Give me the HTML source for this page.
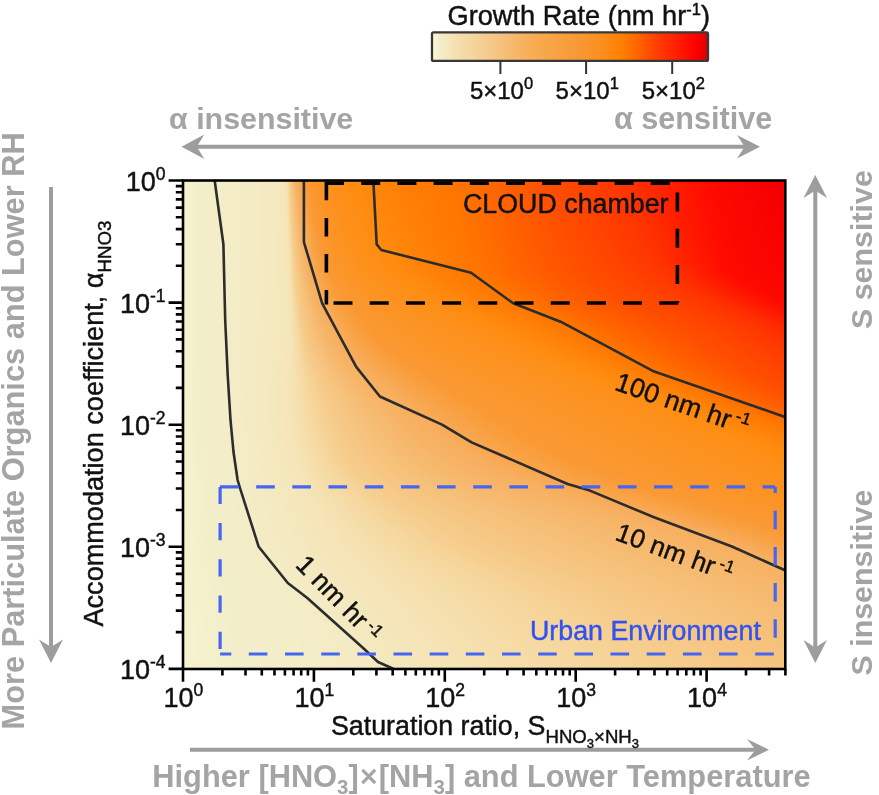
<!DOCTYPE html>
<html><head><meta charset="utf-8">
<style>
html,body{margin:0;padding:0;background:#fff;width:879px;height:795px;overflow:hidden}
body{filter:blur(0.45px)}
#hm{position:absolute;left:183px;top:180px;width:602px;height:488px}
svg{position:absolute;left:0;top:0}
text{font-family:"Liberation Sans", sans-serif}
.k{stroke:#111;stroke-width:0.45px}
</style></head><body>
<svg id="fb" width="602" height="488" style="position:absolute;left:183px;top:180px"><defs><linearGradient id="r0"><stop offset="0.000" stop-color="#f6f2cf"/><stop offset="0.028" stop-color="#f3eeca"/><stop offset="0.053" stop-color="#f3edc8"/><stop offset="0.078" stop-color="#f3ecc6"/><stop offset="0.111" stop-color="#f4ebc4"/><stop offset="0.145" stop-color="#f4e9c0"/><stop offset="0.161" stop-color="#f4e7bc"/><stop offset="0.169" stop-color="#f5e6ba"/><stop offset="0.174" stop-color="#f6daa4"/><stop offset="0.179" stop-color="#f6c886"/><stop offset="0.184" stop-color="#f6ba6f"/><stop offset="0.189" stop-color="#f7af60"/><stop offset="0.194" stop-color="#f8a852"/><stop offset="0.203" stop-color="#fa9d3b"/><stop offset="0.214" stop-color="#fb972d"/><stop offset="0.228" stop-color="#fc9424"/><stop offset="0.252" stop-color="#fe8f19"/><stop offset="0.277" stop-color="#ff8d12"/><stop offset="0.327" stop-color="#ff840a"/><stop offset="0.394" stop-color="#ff7b04"/><stop offset="0.477" stop-color="#ff7000"/><stop offset="0.576" stop-color="#ff5600"/><stop offset="0.693" stop-color="#ff3d00"/><stop offset="0.826" stop-color="#ff1a00"/><stop offset="1.000" stop-color="#ee0000"/></linearGradient><linearGradient id="r1"><stop offset="0.000" stop-color="#f6f2cf"/><stop offset="0.028" stop-color="#f3eeca"/><stop offset="0.053" stop-color="#f3edc8"/><stop offset="0.078" stop-color="#f3ecc6"/><stop offset="0.111" stop-color="#f4ebc4"/><stop offset="0.145" stop-color="#f4e9c0"/><stop offset="0.161" stop-color="#f4e7bc"/><stop offset="0.169" stop-color="#f5e6ba"/><stop offset="0.174" stop-color="#f6dca8"/><stop offset="0.179" stop-color="#f6ca89"/><stop offset="0.184" stop-color="#f6bd74"/><stop offset="0.189" stop-color="#f7b263"/><stop offset="0.194" stop-color="#f7ab58"/><stop offset="0.203" stop-color="#f9a041"/><stop offset="0.214" stop-color="#fb9830"/><stop offset="0.228" stop-color="#fc9426"/><stop offset="0.252" stop-color="#fe901b"/><stop offset="0.277" stop-color="#ff8d13"/><stop offset="0.327" stop-color="#ff850b"/><stop offset="0.394" stop-color="#ff7c04"/><stop offset="0.477" stop-color="#ff7000"/><stop offset="0.576" stop-color="#ff5700"/><stop offset="0.693" stop-color="#ff3e00"/><stop offset="0.826" stop-color="#ff1a00"/><stop offset="1.000" stop-color="#f00000"/></linearGradient><linearGradient id="r2"><stop offset="0.000" stop-color="#f6f2cf"/><stop offset="0.028" stop-color="#f3eeca"/><stop offset="0.053" stop-color="#f3edc8"/><stop offset="0.078" stop-color="#f3ecc6"/><stop offset="0.111" stop-color="#f4ebc4"/><stop offset="0.145" stop-color="#f4e9c0"/><stop offset="0.161" stop-color="#f4e7bd"/><stop offset="0.169" stop-color="#f5e6ba"/><stop offset="0.174" stop-color="#f5deab"/><stop offset="0.179" stop-color="#f6cc8c"/><stop offset="0.184" stop-color="#f6c079"/><stop offset="0.189" stop-color="#f7b467"/><stop offset="0.194" stop-color="#f7ae5d"/><stop offset="0.203" stop-color="#f9a347"/><stop offset="0.214" stop-color="#fa9932"/><stop offset="0.228" stop-color="#fc9528"/><stop offset="0.252" stop-color="#fd911c"/><stop offset="0.277" stop-color="#fe8e15"/><stop offset="0.327" stop-color="#ff860c"/><stop offset="0.394" stop-color="#ff7d05"/><stop offset="0.477" stop-color="#ff7100"/><stop offset="0.576" stop-color="#ff5800"/><stop offset="0.693" stop-color="#ff3f00"/><stop offset="0.826" stop-color="#ff1b00"/><stop offset="1.000" stop-color="#f20000"/></linearGradient><linearGradient id="r3"><stop offset="0.000" stop-color="#f6f2cf"/><stop offset="0.028" stop-color="#f3eeca"/><stop offset="0.053" stop-color="#f3edc8"/><stop offset="0.078" stop-color="#f3ecc6"/><stop offset="0.111" stop-color="#f4ebc4"/><stop offset="0.145" stop-color="#f4e9c0"/><stop offset="0.161" stop-color="#f4e7bd"/><stop offset="0.169" stop-color="#f5e6ba"/><stop offset="0.174" stop-color="#f5dfae"/><stop offset="0.179" stop-color="#f6ce8f"/><stop offset="0.184" stop-color="#f6c27c"/><stop offset="0.189" stop-color="#f7b76b"/><stop offset="0.194" stop-color="#f7af60"/><stop offset="0.203" stop-color="#f8a54c"/><stop offset="0.214" stop-color="#fa9a34"/><stop offset="0.228" stop-color="#fb962a"/><stop offset="0.252" stop-color="#fd911e"/><stop offset="0.277" stop-color="#fe8e16"/><stop offset="0.327" stop-color="#ff870c"/><stop offset="0.394" stop-color="#ff7d05"/><stop offset="0.477" stop-color="#ff7100"/><stop offset="0.576" stop-color="#ff5800"/><stop offset="0.693" stop-color="#ff4000"/><stop offset="0.826" stop-color="#ff1c00"/><stop offset="1.000" stop-color="#f40000"/></linearGradient><linearGradient id="r4"><stop offset="0.000" stop-color="#f6f2cf"/><stop offset="0.028" stop-color="#f3eeca"/><stop offset="0.053" stop-color="#f3edc8"/><stop offset="0.078" stop-color="#f3ecc6"/><stop offset="0.111" stop-color="#f4ebc4"/><stop offset="0.145" stop-color="#f4e9c0"/><stop offset="0.161" stop-color="#f4e7bd"/><stop offset="0.169" stop-color="#f5e6ba"/><stop offset="0.174" stop-color="#f5e1b0"/><stop offset="0.179" stop-color="#f6d093"/><stop offset="0.184" stop-color="#f6c47f"/><stop offset="0.189" stop-color="#f6b96f"/><stop offset="0.194" stop-color="#f7b163"/><stop offset="0.203" stop-color="#f8a851"/><stop offset="0.214" stop-color="#fa9b38"/><stop offset="0.228" stop-color="#fb972c"/><stop offset="0.252" stop-color="#fd9220"/><stop offset="0.277" stop-color="#fe8f18"/><stop offset="0.327" stop-color="#ff880d"/><stop offset="0.394" stop-color="#ff7e05"/><stop offset="0.477" stop-color="#ff7200"/><stop offset="0.576" stop-color="#ff5900"/><stop offset="0.693" stop-color="#ff4100"/><stop offset="0.826" stop-color="#ff1d00"/><stop offset="1.000" stop-color="#f50000"/></linearGradient><linearGradient id="r5"><stop offset="0.000" stop-color="#f6f2cf"/><stop offset="0.028" stop-color="#f3eeca"/><stop offset="0.053" stop-color="#f3edc8"/><stop offset="0.078" stop-color="#f3ecc6"/><stop offset="0.111" stop-color="#f4ebc4"/><stop offset="0.145" stop-color="#f4e9c0"/><stop offset="0.161" stop-color="#f4e7bd"/><stop offset="0.169" stop-color="#f5e6ba"/><stop offset="0.174" stop-color="#f5e2b2"/><stop offset="0.179" stop-color="#f6d396"/><stop offset="0.184" stop-color="#f6c682"/><stop offset="0.189" stop-color="#f6bc72"/><stop offset="0.194" stop-color="#f7b366"/><stop offset="0.203" stop-color="#f8aa56"/><stop offset="0.214" stop-color="#f99e3c"/><stop offset="0.228" stop-color="#fb982e"/><stop offset="0.252" stop-color="#fd9322"/><stop offset="0.277" stop-color="#fe8f19"/><stop offset="0.327" stop-color="#ff890e"/><stop offset="0.394" stop-color="#ff7e06"/><stop offset="0.477" stop-color="#ff7200"/><stop offset="0.576" stop-color="#ff5a00"/><stop offset="0.693" stop-color="#ff4200"/><stop offset="0.826" stop-color="#ff1e00"/><stop offset="1.000" stop-color="#f60100"/></linearGradient><linearGradient id="r6"><stop offset="0.000" stop-color="#f6f2cf"/><stop offset="0.028" stop-color="#f3eeca"/><stop offset="0.053" stop-color="#f3edc8"/><stop offset="0.078" stop-color="#f3ecc6"/><stop offset="0.111" stop-color="#f4ebc4"/><stop offset="0.145" stop-color="#f4e9c0"/><stop offset="0.161" stop-color="#f4e7bd"/><stop offset="0.169" stop-color="#f5e6ba"/><stop offset="0.174" stop-color="#f5e3b4"/><stop offset="0.179" stop-color="#f6d59a"/><stop offset="0.184" stop-color="#f6c885"/><stop offset="0.189" stop-color="#f6be76"/><stop offset="0.194" stop-color="#f7b569"/><stop offset="0.203" stop-color="#f7ac5a"/><stop offset="0.214" stop-color="#f9a041"/><stop offset="0.228" stop-color="#fb9830"/><stop offset="0.252" stop-color="#fc9323"/><stop offset="0.277" stop-color="#fe901b"/><stop offset="0.327" stop-color="#ff8a0f"/><stop offset="0.394" stop-color="#ff7f06"/><stop offset="0.477" stop-color="#ff7300"/><stop offset="0.576" stop-color="#ff5b00"/><stop offset="0.693" stop-color="#ff4300"/><stop offset="0.826" stop-color="#ff1f00"/><stop offset="1.000" stop-color="#f60100"/></linearGradient><linearGradient id="r7"><stop offset="0.000" stop-color="#f6f2cf"/><stop offset="0.028" stop-color="#f3eeca"/><stop offset="0.053" stop-color="#f3edc8"/><stop offset="0.078" stop-color="#f3ecc6"/><stop offset="0.111" stop-color="#f4ebc4"/><stop offset="0.145" stop-color="#f4e9c0"/><stop offset="0.161" stop-color="#f4e7bd"/><stop offset="0.169" stop-color="#f5e6ba"/><stop offset="0.174" stop-color="#f5e4b6"/><stop offset="0.179" stop-color="#f6d79d"/><stop offset="0.184" stop-color="#f6c988"/><stop offset="0.189" stop-color="#f6c179"/><stop offset="0.194" stop-color="#f6b86c"/><stop offset="0.203" stop-color="#f7ae5e"/><stop offset="0.214" stop-color="#f9a346"/><stop offset="0.228" stop-color="#fa9933"/><stop offset="0.252" stop-color="#fc9425"/><stop offset="0.277" stop-color="#fd911c"/><stop offset="0.327" stop-color="#ff8b0f"/><stop offset="0.394" stop-color="#ff8007"/><stop offset="0.477" stop-color="#ff7400"/><stop offset="0.576" stop-color="#ff5c00"/><stop offset="0.693" stop-color="#ff4400"/><stop offset="0.826" stop-color="#ff2100"/><stop offset="1.000" stop-color="#f70200"/></linearGradient><linearGradient id="r8"><stop offset="0.000" stop-color="#f6f2cf"/><stop offset="0.028" stop-color="#f3eeca"/><stop offset="0.053" stop-color="#f3edc8"/><stop offset="0.078" stop-color="#f3ecc6"/><stop offset="0.111" stop-color="#f4ebc4"/><stop offset="0.145" stop-color="#f4e9c0"/><stop offset="0.161" stop-color="#f4e7bd"/><stop offset="0.169" stop-color="#f5e6bb"/><stop offset="0.174" stop-color="#f5e4b7"/><stop offset="0.179" stop-color="#f6d8a0"/><stop offset="0.184" stop-color="#f6cb8a"/><stop offset="0.189" stop-color="#f6c37d"/><stop offset="0.194" stop-color="#f6ba70"/><stop offset="0.203" stop-color="#f7b061"/><stop offset="0.214" stop-color="#f8a54c"/><stop offset="0.228" stop-color="#fa9a35"/><stop offset="0.252" stop-color="#fc9527"/><stop offset="0.277" stop-color="#fd911e"/><stop offset="0.327" stop-color="#ff8c11"/><stop offset="0.394" stop-color="#ff8108"/><stop offset="0.477" stop-color="#ff7500"/><stop offset="0.576" stop-color="#ff5d00"/><stop offset="0.693" stop-color="#ff4600"/><stop offset="0.826" stop-color="#ff2300"/><stop offset="1.000" stop-color="#f70200"/></linearGradient><linearGradient id="r9"><stop offset="0.000" stop-color="#f6f2cf"/><stop offset="0.028" stop-color="#f3eeca"/><stop offset="0.053" stop-color="#f3edc8"/><stop offset="0.078" stop-color="#f3ecc6"/><stop offset="0.111" stop-color="#f4ebc4"/><stop offset="0.145" stop-color="#f4e9c0"/><stop offset="0.161" stop-color="#f4e7bd"/><stop offset="0.169" stop-color="#f5e6bb"/><stop offset="0.174" stop-color="#f5e5b7"/><stop offset="0.179" stop-color="#f6daa4"/><stop offset="0.184" stop-color="#f6cd8d"/><stop offset="0.189" stop-color="#f6c580"/><stop offset="0.194" stop-color="#f6bd74"/><stop offset="0.203" stop-color="#f7b264"/><stop offset="0.214" stop-color="#f8a851"/><stop offset="0.228" stop-color="#fa9d3a"/><stop offset="0.252" stop-color="#fc962a"/><stop offset="0.277" stop-color="#fd9220"/><stop offset="0.327" stop-color="#ff8d13"/><stop offset="0.394" stop-color="#ff8209"/><stop offset="0.477" stop-color="#ff7600"/><stop offset="0.576" stop-color="#ff5e00"/><stop offset="0.693" stop-color="#ff4700"/><stop offset="0.826" stop-color="#ff2500"/><stop offset="1.000" stop-color="#f80300"/></linearGradient><linearGradient id="r10"><stop offset="0.000" stop-color="#f6f2cf"/><stop offset="0.028" stop-color="#f3eeca"/><stop offset="0.053" stop-color="#f3edc8"/><stop offset="0.078" stop-color="#f3ecc6"/><stop offset="0.111" stop-color="#f4ebc4"/><stop offset="0.145" stop-color="#f4e9c0"/><stop offset="0.161" stop-color="#f4e7bd"/><stop offset="0.169" stop-color="#f5e6bb"/><stop offset="0.174" stop-color="#f5e5b8"/><stop offset="0.179" stop-color="#f6dca7"/><stop offset="0.184" stop-color="#f6cf90"/><stop offset="0.189" stop-color="#f6c783"/><stop offset="0.194" stop-color="#f6bf77"/><stop offset="0.203" stop-color="#f7b467"/><stop offset="0.214" stop-color="#f8ab57"/><stop offset="0.228" stop-color="#f9a040"/><stop offset="0.252" stop-color="#fb972c"/><stop offset="0.277" stop-color="#fd9322"/><stop offset="0.327" stop-color="#fe8e15"/><stop offset="0.394" stop-color="#ff830a"/><stop offset="0.477" stop-color="#ff7701"/><stop offset="0.576" stop-color="#ff5f00"/><stop offset="0.693" stop-color="#ff4800"/><stop offset="0.826" stop-color="#ff2800"/><stop offset="1.000" stop-color="#f80300"/></linearGradient><linearGradient id="r11"><stop offset="0.000" stop-color="#f6f2cf"/><stop offset="0.028" stop-color="#f3eeca"/><stop offset="0.053" stop-color="#f3edc8"/><stop offset="0.078" stop-color="#f3ecc6"/><stop offset="0.111" stop-color="#f4ebc4"/><stop offset="0.145" stop-color="#f4e9c0"/><stop offset="0.161" stop-color="#f4e8bd"/><stop offset="0.169" stop-color="#f5e6bb"/><stop offset="0.174" stop-color="#f5e5b8"/><stop offset="0.179" stop-color="#f5ddaa"/><stop offset="0.184" stop-color="#f6d194"/><stop offset="0.189" stop-color="#f6c986"/><stop offset="0.194" stop-color="#f6c27b"/><stop offset="0.203" stop-color="#f7b76b"/><stop offset="0.214" stop-color="#f7ae5d"/><stop offset="0.228" stop-color="#f9a347"/><stop offset="0.252" stop-color="#fb982f"/><stop offset="0.277" stop-color="#fc9425"/><stop offset="0.327" stop-color="#fe8f18"/><stop offset="0.394" stop-color="#ff850b"/><stop offset="0.477" stop-color="#ff7801"/><stop offset="0.576" stop-color="#ff6100"/><stop offset="0.693" stop-color="#ff4a00"/><stop offset="0.826" stop-color="#ff2c00"/><stop offset="1.000" stop-color="#f90400"/></linearGradient><linearGradient id="r12"><stop offset="0.000" stop-color="#f6f2cf"/><stop offset="0.028" stop-color="#f3eeca"/><stop offset="0.053" stop-color="#f3edc8"/><stop offset="0.078" stop-color="#f3ecc6"/><stop offset="0.111" stop-color="#f4ebc4"/><stop offset="0.145" stop-color="#f4e9c0"/><stop offset="0.161" stop-color="#f4e8bd"/><stop offset="0.169" stop-color="#f5e6bb"/><stop offset="0.174" stop-color="#f5e5b9"/><stop offset="0.179" stop-color="#f5dfac"/><stop offset="0.184" stop-color="#f6d499"/><stop offset="0.189" stop-color="#f6ca89"/><stop offset="0.194" stop-color="#f6c47f"/><stop offset="0.203" stop-color="#f6ba6f"/><stop offset="0.214" stop-color="#f7b060"/><stop offset="0.228" stop-color="#f8a64e"/><stop offset="0.252" stop-color="#fa9932"/><stop offset="0.277" stop-color="#fc9528"/><stop offset="0.327" stop-color="#fe901b"/><stop offset="0.394" stop-color="#ff880d"/><stop offset="0.477" stop-color="#ff7a03"/><stop offset="0.576" stop-color="#ff6400"/><stop offset="0.693" stop-color="#ff4d00"/><stop offset="0.826" stop-color="#ff3200"/><stop offset="1.000" stop-color="#fa0500"/></linearGradient><linearGradient id="r13"><stop offset="0.000" stop-color="#f6f2cf"/><stop offset="0.028" stop-color="#f3eeca"/><stop offset="0.053" stop-color="#f3edc8"/><stop offset="0.078" stop-color="#f3ecc6"/><stop offset="0.111" stop-color="#f4ebc4"/><stop offset="0.145" stop-color="#f4e9c0"/><stop offset="0.161" stop-color="#f4e8bd"/><stop offset="0.169" stop-color="#f5e6bb"/><stop offset="0.174" stop-color="#f5e6b9"/><stop offset="0.179" stop-color="#f5e0af"/><stop offset="0.184" stop-color="#f6d69d"/><stop offset="0.189" stop-color="#f6cc8c"/><stop offset="0.194" stop-color="#f6c682"/><stop offset="0.203" stop-color="#f6bd74"/><stop offset="0.214" stop-color="#f7b264"/><stop offset="0.228" stop-color="#f8aa55"/><stop offset="0.252" stop-color="#fa9b36"/><stop offset="0.277" stop-color="#fb972c"/><stop offset="0.327" stop-color="#fd921f"/><stop offset="0.394" stop-color="#ff8c10"/><stop offset="0.477" stop-color="#ff7d05"/><stop offset="0.576" stop-color="#ff6800"/><stop offset="0.693" stop-color="#ff4f00"/><stop offset="0.826" stop-color="#ff3700"/><stop offset="1.000" stop-color="#fb0600"/></linearGradient><linearGradient id="r14"><stop offset="0.000" stop-color="#f6f2cf"/><stop offset="0.028" stop-color="#f3eeca"/><stop offset="0.053" stop-color="#f3edc8"/><stop offset="0.078" stop-color="#f3ecc6"/><stop offset="0.111" stop-color="#f4ebc4"/><stop offset="0.145" stop-color="#f4e9c0"/><stop offset="0.161" stop-color="#f4e8bd"/><stop offset="0.169" stop-color="#f5e6bb"/><stop offset="0.174" stop-color="#f5e6b9"/><stop offset="0.179" stop-color="#f5e1b1"/><stop offset="0.184" stop-color="#f6d8a0"/><stop offset="0.189" stop-color="#f6cf90"/><stop offset="0.194" stop-color="#f6c886"/><stop offset="0.203" stop-color="#f6c078"/><stop offset="0.214" stop-color="#f7b568"/><stop offset="0.228" stop-color="#f7ad5c"/><stop offset="0.252" stop-color="#f99e3e"/><stop offset="0.277" stop-color="#fb982f"/><stop offset="0.327" stop-color="#fd9322"/><stop offset="0.394" stop-color="#fe8e15"/><stop offset="0.477" stop-color="#ff8108"/><stop offset="0.576" stop-color="#ff6e00"/><stop offset="0.693" stop-color="#ff5400"/><stop offset="0.826" stop-color="#ff3c00"/><stop offset="1.000" stop-color="#fd0800"/></linearGradient><linearGradient id="r15"><stop offset="0.000" stop-color="#f6f2cf"/><stop offset="0.028" stop-color="#f3eeca"/><stop offset="0.053" stop-color="#f3edc8"/><stop offset="0.078" stop-color="#f3ecc6"/><stop offset="0.111" stop-color="#f4ebc4"/><stop offset="0.145" stop-color="#f4e9c0"/><stop offset="0.161" stop-color="#f4e8bd"/><stop offset="0.169" stop-color="#f5e6bb"/><stop offset="0.174" stop-color="#f5e6b9"/><stop offset="0.179" stop-color="#f5e2b2"/><stop offset="0.184" stop-color="#f6daa4"/><stop offset="0.189" stop-color="#f6d194"/><stop offset="0.194" stop-color="#f6ca89"/><stop offset="0.203" stop-color="#f6c27c"/><stop offset="0.214" stop-color="#f6b86c"/><stop offset="0.228" stop-color="#f7af60"/><stop offset="0.252" stop-color="#f9a246"/><stop offset="0.277" stop-color="#fa9933"/><stop offset="0.327" stop-color="#fc9426"/><stop offset="0.394" stop-color="#fe9019"/><stop offset="0.477" stop-color="#ff850b"/><stop offset="0.576" stop-color="#ff7400"/><stop offset="0.693" stop-color="#ff5800"/><stop offset="0.826" stop-color="#ff4100"/><stop offset="1.000" stop-color="#ff0a00"/></linearGradient><linearGradient id="r16"><stop offset="0.000" stop-color="#f6f2cf"/><stop offset="0.028" stop-color="#f3eeca"/><stop offset="0.053" stop-color="#f3edc8"/><stop offset="0.078" stop-color="#f3ecc6"/><stop offset="0.111" stop-color="#f4ebc4"/><stop offset="0.145" stop-color="#f4e9c0"/><stop offset="0.161" stop-color="#f4e8bd"/><stop offset="0.169" stop-color="#f5e6bb"/><stop offset="0.174" stop-color="#f5e6ba"/><stop offset="0.179" stop-color="#f5e3b4"/><stop offset="0.184" stop-color="#f6dca7"/><stop offset="0.189" stop-color="#f6d498"/><stop offset="0.194" stop-color="#f6cc8c"/><stop offset="0.203" stop-color="#f6c580"/><stop offset="0.214" stop-color="#f6bb71"/><stop offset="0.228" stop-color="#f7b264"/><stop offset="0.252" stop-color="#f8a64e"/><stop offset="0.277" stop-color="#fa9b37"/><stop offset="0.327" stop-color="#fc9529"/><stop offset="0.394" stop-color="#fd911d"/><stop offset="0.477" stop-color="#ff8a0f"/><stop offset="0.576" stop-color="#ff7902"/><stop offset="0.693" stop-color="#ff5e00"/><stop offset="0.826" stop-color="#ff4500"/><stop offset="1.000" stop-color="#ff1200"/></linearGradient><linearGradient id="r17"><stop offset="0.000" stop-color="#f6f2cf"/><stop offset="0.028" stop-color="#f3eeca"/><stop offset="0.053" stop-color="#f3edc8"/><stop offset="0.078" stop-color="#f3ecc6"/><stop offset="0.111" stop-color="#f4ebc4"/><stop offset="0.145" stop-color="#f4e9c0"/><stop offset="0.161" stop-color="#f4e8bd"/><stop offset="0.169" stop-color="#f5e6bb"/><stop offset="0.174" stop-color="#f5e6ba"/><stop offset="0.179" stop-color="#f5e3b5"/><stop offset="0.184" stop-color="#f5dda9"/><stop offset="0.189" stop-color="#f6d69c"/><stop offset="0.194" stop-color="#f6cf90"/><stop offset="0.203" stop-color="#f6c784"/><stop offset="0.214" stop-color="#f6be75"/><stop offset="0.228" stop-color="#f7b568"/><stop offset="0.252" stop-color="#f8a955"/><stop offset="0.277" stop-color="#f99f3f"/><stop offset="0.327" stop-color="#fb972c"/><stop offset="0.394" stop-color="#fd9221"/><stop offset="0.477" stop-color="#ff8d13"/><stop offset="0.576" stop-color="#ff7d05"/><stop offset="0.693" stop-color="#ff6400"/><stop offset="0.826" stop-color="#ff4900"/><stop offset="1.000" stop-color="#ff1d00"/></linearGradient><linearGradient id="r18"><stop offset="0.000" stop-color="#f6f2cf"/><stop offset="0.028" stop-color="#f3eeca"/><stop offset="0.053" stop-color="#f3edc8"/><stop offset="0.078" stop-color="#f3ecc6"/><stop offset="0.111" stop-color="#f4ebc4"/><stop offset="0.145" stop-color="#f4e9c0"/><stop offset="0.161" stop-color="#f4e7bd"/><stop offset="0.169" stop-color="#f5e6bb"/><stop offset="0.174" stop-color="#f5e6ba"/><stop offset="0.179" stop-color="#f5e4b6"/><stop offset="0.184" stop-color="#f5dfac"/><stop offset="0.189" stop-color="#f6d8a0"/><stop offset="0.194" stop-color="#f6d194"/><stop offset="0.203" stop-color="#f6c987"/><stop offset="0.214" stop-color="#f6c179"/><stop offset="0.228" stop-color="#f6b86c"/><stop offset="0.252" stop-color="#f7ad5b"/><stop offset="0.277" stop-color="#f9a246"/><stop offset="0.327" stop-color="#fb982f"/><stop offset="0.394" stop-color="#fc9324"/><stop offset="0.477" stop-color="#fe8f18"/><stop offset="0.576" stop-color="#ff8209"/><stop offset="0.693" stop-color="#ff6a00"/><stop offset="0.826" stop-color="#ff4d00"/><stop offset="1.000" stop-color="#ff2700"/></linearGradient><linearGradient id="r19"><stop offset="0.000" stop-color="#f6f2cf"/><stop offset="0.028" stop-color="#f3eeca"/><stop offset="0.053" stop-color="#f3edc8"/><stop offset="0.078" stop-color="#f3ecc6"/><stop offset="0.111" stop-color="#f4ebc4"/><stop offset="0.145" stop-color="#f4e9c0"/><stop offset="0.161" stop-color="#f4e7bd"/><stop offset="0.169" stop-color="#f5e6bb"/><stop offset="0.174" stop-color="#f5e6ba"/><stop offset="0.179" stop-color="#f5e4b6"/><stop offset="0.184" stop-color="#f5e0ae"/><stop offset="0.189" stop-color="#f6daa3"/><stop offset="0.194" stop-color="#f6d498"/><stop offset="0.203" stop-color="#f6cb8a"/><stop offset="0.214" stop-color="#f6c37d"/><stop offset="0.228" stop-color="#f6ba70"/><stop offset="0.252" stop-color="#f7af60"/><stop offset="0.277" stop-color="#f8a64d"/><stop offset="0.327" stop-color="#fa9932"/><stop offset="0.394" stop-color="#fc9527"/><stop offset="0.477" stop-color="#fd901c"/><stop offset="0.576" stop-color="#ff870c"/><stop offset="0.693" stop-color="#ff7100"/><stop offset="0.826" stop-color="#ff5100"/><stop offset="1.000" stop-color="#ff3000"/></linearGradient><linearGradient id="r20"><stop offset="0.000" stop-color="#f6f2cf"/><stop offset="0.028" stop-color="#f3eeca"/><stop offset="0.053" stop-color="#f3edc8"/><stop offset="0.078" stop-color="#f3ecc6"/><stop offset="0.111" stop-color="#f4ebc4"/><stop offset="0.145" stop-color="#f4e9c0"/><stop offset="0.161" stop-color="#f4e7bd"/><stop offset="0.169" stop-color="#f5e6bb"/><stop offset="0.174" stop-color="#f5e6ba"/><stop offset="0.179" stop-color="#f5e4b7"/><stop offset="0.184" stop-color="#f5e0af"/><stop offset="0.189" stop-color="#f6dba6"/><stop offset="0.194" stop-color="#f6d69c"/><stop offset="0.203" stop-color="#f6cd8d"/><stop offset="0.214" stop-color="#f6c581"/><stop offset="0.228" stop-color="#f6bd75"/><stop offset="0.252" stop-color="#f7b263"/><stop offset="0.277" stop-color="#f8a954"/><stop offset="0.327" stop-color="#fa9a35"/><stop offset="0.394" stop-color="#fc9629"/><stop offset="0.477" stop-color="#fd921f"/><stop offset="0.576" stop-color="#ff8c10"/><stop offset="0.693" stop-color="#ff7701"/><stop offset="0.826" stop-color="#ff5600"/><stop offset="1.000" stop-color="#ff3500"/></linearGradient><linearGradient id="r21"><stop offset="0.000" stop-color="#f6f2cf"/><stop offset="0.028" stop-color="#f3eeca"/><stop offset="0.053" stop-color="#f3edc8"/><stop offset="0.078" stop-color="#f3ecc6"/><stop offset="0.111" stop-color="#f4ebc4"/><stop offset="0.145" stop-color="#f4e9c0"/><stop offset="0.161" stop-color="#f4e7bd"/><stop offset="0.169" stop-color="#f5e6bb"/><stop offset="0.174" stop-color="#f5e6b9"/><stop offset="0.179" stop-color="#f5e4b7"/><stop offset="0.184" stop-color="#f5e1b0"/><stop offset="0.189" stop-color="#f5dda8"/><stop offset="0.194" stop-color="#f6d8a0"/><stop offset="0.203" stop-color="#f6d091"/><stop offset="0.214" stop-color="#f6c885"/><stop offset="0.228" stop-color="#f6c17a"/><stop offset="0.252" stop-color="#f7b568"/><stop offset="0.277" stop-color="#f7ad5c"/><stop offset="0.327" stop-color="#f99e3d"/><stop offset="0.394" stop-color="#fb972c"/><stop offset="0.477" stop-color="#fd9322"/><stop offset="0.576" stop-color="#fe8e15"/><stop offset="0.693" stop-color="#ff7c04"/><stop offset="0.826" stop-color="#ff5b00"/><stop offset="1.000" stop-color="#ff3a00"/></linearGradient><linearGradient id="r22"><stop offset="0.000" stop-color="#f6f2cf"/><stop offset="0.028" stop-color="#f3eeca"/><stop offset="0.053" stop-color="#f3edc8"/><stop offset="0.078" stop-color="#f3ecc7"/><stop offset="0.111" stop-color="#f4ebc4"/><stop offset="0.145" stop-color="#f4e9bf"/><stop offset="0.161" stop-color="#f4e7bc"/><stop offset="0.169" stop-color="#f5e6ba"/><stop offset="0.174" stop-color="#f5e6b9"/><stop offset="0.179" stop-color="#f5e4b6"/><stop offset="0.184" stop-color="#f5e1b1"/><stop offset="0.189" stop-color="#f5deaa"/><stop offset="0.194" stop-color="#f6daa3"/><stop offset="0.203" stop-color="#f6d396"/><stop offset="0.214" stop-color="#f6ca89"/><stop offset="0.228" stop-color="#f6c47f"/><stop offset="0.252" stop-color="#f6b86d"/><stop offset="0.277" stop-color="#f7b061"/><stop offset="0.327" stop-color="#f9a245"/><stop offset="0.394" stop-color="#fb982f"/><stop offset="0.477" stop-color="#fc9425"/><stop offset="0.576" stop-color="#fe9019"/><stop offset="0.693" stop-color="#ff8108"/><stop offset="0.826" stop-color="#ff6100"/><stop offset="1.000" stop-color="#ff3e00"/></linearGradient><linearGradient id="r23"><stop offset="0.000" stop-color="#f6f2cf"/><stop offset="0.028" stop-color="#f3eeca"/><stop offset="0.053" stop-color="#f3edc9"/><stop offset="0.078" stop-color="#f3ecc7"/><stop offset="0.111" stop-color="#f4ebc4"/><stop offset="0.145" stop-color="#f4e9bf"/><stop offset="0.161" stop-color="#f4e7bc"/><stop offset="0.169" stop-color="#f5e6ba"/><stop offset="0.174" stop-color="#f5e5b9"/><stop offset="0.179" stop-color="#f5e4b6"/><stop offset="0.184" stop-color="#f5e1b1"/><stop offset="0.189" stop-color="#f5deab"/><stop offset="0.194" stop-color="#f6dba5"/><stop offset="0.203" stop-color="#f6d59a"/><stop offset="0.214" stop-color="#f6cd8d"/><stop offset="0.228" stop-color="#f6c783"/><stop offset="0.252" stop-color="#f6bc73"/><stop offset="0.277" stop-color="#f7b366"/><stop offset="0.327" stop-color="#f8a64e"/><stop offset="0.394" stop-color="#fa9933"/><stop offset="0.477" stop-color="#fc9528"/><stop offset="0.576" stop-color="#fd911d"/><stop offset="0.693" stop-color="#ff870c"/><stop offset="0.826" stop-color="#ff6800"/><stop offset="1.000" stop-color="#ff4200"/></linearGradient><linearGradient id="r24"><stop offset="0.000" stop-color="#f6f2cf"/><stop offset="0.028" stop-color="#f3eeca"/><stop offset="0.053" stop-color="#f3edc9"/><stop offset="0.078" stop-color="#f3ecc7"/><stop offset="0.111" stop-color="#f4ebc4"/><stop offset="0.145" stop-color="#f4e8bf"/><stop offset="0.161" stop-color="#f4e7bc"/><stop offset="0.169" stop-color="#f5e6ba"/><stop offset="0.174" stop-color="#f5e5b8"/><stop offset="0.179" stop-color="#f5e4b6"/><stop offset="0.184" stop-color="#f5e1b1"/><stop offset="0.189" stop-color="#f5dfac"/><stop offset="0.194" stop-color="#f6dca7"/><stop offset="0.203" stop-color="#f6d79e"/><stop offset="0.214" stop-color="#f6cf91"/><stop offset="0.228" stop-color="#f6c987"/><stop offset="0.252" stop-color="#f6c078"/><stop offset="0.277" stop-color="#f7b76b"/><stop offset="0.327" stop-color="#f8aa57"/><stop offset="0.394" stop-color="#fa9b37"/><stop offset="0.477" stop-color="#fb962b"/><stop offset="0.576" stop-color="#fd9221"/><stop offset="0.693" stop-color="#ff8c11"/><stop offset="0.826" stop-color="#ff6f00"/><stop offset="1.000" stop-color="#ff4600"/></linearGradient><linearGradient id="r25"><stop offset="0.000" stop-color="#f6f2cf"/><stop offset="0.028" stop-color="#f3eeca"/><stop offset="0.053" stop-color="#f3edc9"/><stop offset="0.078" stop-color="#f3ecc7"/><stop offset="0.111" stop-color="#f4ebc4"/><stop offset="0.145" stop-color="#f4e8bf"/><stop offset="0.161" stop-color="#f4e7bb"/><stop offset="0.169" stop-color="#f5e6ba"/><stop offset="0.174" stop-color="#f5e5b8"/><stop offset="0.179" stop-color="#f5e4b5"/><stop offset="0.184" stop-color="#f5e2b2"/><stop offset="0.189" stop-color="#f5dfad"/><stop offset="0.194" stop-color="#f5dda8"/><stop offset="0.203" stop-color="#f6d8a0"/><stop offset="0.214" stop-color="#f6d295"/><stop offset="0.228" stop-color="#f6cb8a"/><stop offset="0.252" stop-color="#f6c37c"/><stop offset="0.277" stop-color="#f6ba70"/><stop offset="0.327" stop-color="#f7ae5f"/><stop offset="0.394" stop-color="#f99f3f"/><stop offset="0.477" stop-color="#fb972e"/><stop offset="0.576" stop-color="#fc9424"/><stop offset="0.693" stop-color="#fe8e17"/><stop offset="0.826" stop-color="#ff7801"/><stop offset="1.000" stop-color="#ff4a00"/></linearGradient><linearGradient id="r26"><stop offset="0.000" stop-color="#f6f2cf"/><stop offset="0.028" stop-color="#f3eeca"/><stop offset="0.053" stop-color="#f3edc9"/><stop offset="0.078" stop-color="#f3ecc7"/><stop offset="0.111" stop-color="#f4ebc4"/><stop offset="0.145" stop-color="#f4e8bf"/><stop offset="0.161" stop-color="#f4e7bb"/><stop offset="0.169" stop-color="#f5e6b9"/><stop offset="0.174" stop-color="#f5e5b8"/><stop offset="0.179" stop-color="#f5e4b5"/><stop offset="0.184" stop-color="#f5e2b2"/><stop offset="0.189" stop-color="#f5e0ae"/><stop offset="0.194" stop-color="#f5ddaa"/><stop offset="0.203" stop-color="#f6daa2"/><stop offset="0.214" stop-color="#f6d498"/><stop offset="0.228" stop-color="#f6cd8d"/><stop offset="0.252" stop-color="#f6c580"/><stop offset="0.277" stop-color="#f6bd75"/><stop offset="0.327" stop-color="#f7b162"/><stop offset="0.394" stop-color="#f9a347"/><stop offset="0.477" stop-color="#fb9831"/><stop offset="0.576" stop-color="#fc9527"/><stop offset="0.693" stop-color="#fe901b"/><stop offset="0.826" stop-color="#ff7f06"/><stop offset="1.000" stop-color="#ff4f00"/></linearGradient><linearGradient id="r27"><stop offset="0.000" stop-color="#f6f2cf"/><stop offset="0.028" stop-color="#f3eecb"/><stop offset="0.053" stop-color="#f3edc9"/><stop offset="0.078" stop-color="#f3edc7"/><stop offset="0.111" stop-color="#f4ebc4"/><stop offset="0.145" stop-color="#f4e8bf"/><stop offset="0.161" stop-color="#f4e7bb"/><stop offset="0.169" stop-color="#f5e6b9"/><stop offset="0.174" stop-color="#f5e5b8"/><stop offset="0.179" stop-color="#f5e4b6"/><stop offset="0.184" stop-color="#f5e2b2"/><stop offset="0.189" stop-color="#f5e0af"/><stop offset="0.194" stop-color="#f5deab"/><stop offset="0.203" stop-color="#f6dba4"/><stop offset="0.214" stop-color="#f6d69b"/><stop offset="0.228" stop-color="#f6cf90"/><stop offset="0.252" stop-color="#f6c783"/><stop offset="0.277" stop-color="#f6c078"/><stop offset="0.327" stop-color="#f7b466"/><stop offset="0.394" stop-color="#f8a64f"/><stop offset="0.477" stop-color="#fa9934"/><stop offset="0.576" stop-color="#fc962a"/><stop offset="0.693" stop-color="#fd921f"/><stop offset="0.826" stop-color="#ff860b"/><stop offset="1.000" stop-color="#ff5600"/></linearGradient><linearGradient id="r28"><stop offset="0.000" stop-color="#f6f2cf"/><stop offset="0.028" stop-color="#f3efcb"/><stop offset="0.053" stop-color="#f3edc9"/><stop offset="0.078" stop-color="#f3edc7"/><stop offset="0.111" stop-color="#f4ebc4"/><stop offset="0.145" stop-color="#f4e8bf"/><stop offset="0.161" stop-color="#f4e7bb"/><stop offset="0.169" stop-color="#f5e6b9"/><stop offset="0.174" stop-color="#f5e5b8"/><stop offset="0.179" stop-color="#f5e4b6"/><stop offset="0.184" stop-color="#f5e2b3"/><stop offset="0.189" stop-color="#f5e1b0"/><stop offset="0.194" stop-color="#f5dfac"/><stop offset="0.203" stop-color="#f6dca6"/><stop offset="0.214" stop-color="#f6d79d"/><stop offset="0.228" stop-color="#f6d193"/><stop offset="0.252" stop-color="#f6c986"/><stop offset="0.277" stop-color="#f6c27c"/><stop offset="0.327" stop-color="#f7b66a"/><stop offset="0.394" stop-color="#f8aa56"/><stop offset="0.477" stop-color="#fa9b38"/><stop offset="0.576" stop-color="#fb972c"/><stop offset="0.693" stop-color="#fd9322"/><stop offset="0.826" stop-color="#ff8c10"/><stop offset="1.000" stop-color="#ff5e00"/></linearGradient><linearGradient id="r29"><stop offset="0.000" stop-color="#f6f2cf"/><stop offset="0.028" stop-color="#f3efcb"/><stop offset="0.053" stop-color="#f3edc9"/><stop offset="0.078" stop-color="#f3edc7"/><stop offset="0.111" stop-color="#f4ebc4"/><stop offset="0.145" stop-color="#f4e8bf"/><stop offset="0.161" stop-color="#f4e7bb"/><stop offset="0.169" stop-color="#f5e6b9"/><stop offset="0.174" stop-color="#f5e5b8"/><stop offset="0.179" stop-color="#f5e4b6"/><stop offset="0.184" stop-color="#f5e3b4"/><stop offset="0.189" stop-color="#f5e1b1"/><stop offset="0.194" stop-color="#f5dfae"/><stop offset="0.203" stop-color="#f6dca8"/><stop offset="0.214" stop-color="#f6d89f"/><stop offset="0.228" stop-color="#f6d296"/><stop offset="0.252" stop-color="#f6ca88"/><stop offset="0.277" stop-color="#f6c47e"/><stop offset="0.327" stop-color="#f6b86d"/><stop offset="0.394" stop-color="#f7ad5d"/><stop offset="0.477" stop-color="#f99e3e"/><stop offset="0.576" stop-color="#fb972e"/><stop offset="0.693" stop-color="#fc9424"/><stop offset="0.826" stop-color="#fe8e15"/><stop offset="1.000" stop-color="#ff6800"/></linearGradient><linearGradient id="r30"><stop offset="0.000" stop-color="#f6f2cf"/><stop offset="0.028" stop-color="#f3efcb"/><stop offset="0.053" stop-color="#f3edc9"/><stop offset="0.078" stop-color="#f3edc7"/><stop offset="0.111" stop-color="#f4ebc4"/><stop offset="0.145" stop-color="#f4e8bf"/><stop offset="0.161" stop-color="#f4e7bc"/><stop offset="0.169" stop-color="#f5e6ba"/><stop offset="0.174" stop-color="#f5e5b8"/><stop offset="0.179" stop-color="#f5e4b7"/><stop offset="0.184" stop-color="#f5e3b5"/><stop offset="0.189" stop-color="#f5e2b2"/><stop offset="0.194" stop-color="#f5e0af"/><stop offset="0.203" stop-color="#f5dda9"/><stop offset="0.214" stop-color="#f6d9a1"/><stop offset="0.228" stop-color="#f6d498"/><stop offset="0.252" stop-color="#f6cb8a"/><stop offset="0.277" stop-color="#f6c581"/><stop offset="0.327" stop-color="#f6ba70"/><stop offset="0.394" stop-color="#f7af60"/><stop offset="0.477" stop-color="#f9a144"/><stop offset="0.576" stop-color="#fb9830"/><stop offset="0.693" stop-color="#fc9526"/><stop offset="0.826" stop-color="#fe8f19"/><stop offset="1.000" stop-color="#ff7400"/></linearGradient><linearGradient id="r31"><stop offset="0.000" stop-color="#f6f2cf"/><stop offset="0.028" stop-color="#f4efcb"/><stop offset="0.053" stop-color="#f3edc9"/><stop offset="0.078" stop-color="#f3edc7"/><stop offset="0.111" stop-color="#f4ebc4"/><stop offset="0.145" stop-color="#f4e9bf"/><stop offset="0.161" stop-color="#f4e7bc"/><stop offset="0.169" stop-color="#f5e6ba"/><stop offset="0.174" stop-color="#f5e5b9"/><stop offset="0.179" stop-color="#f5e5b7"/><stop offset="0.184" stop-color="#f5e4b6"/><stop offset="0.189" stop-color="#f5e2b3"/><stop offset="0.194" stop-color="#f5e1b0"/><stop offset="0.203" stop-color="#f5deab"/><stop offset="0.214" stop-color="#f6daa4"/><stop offset="0.228" stop-color="#f6d69b"/><stop offset="0.252" stop-color="#f6cc8c"/><stop offset="0.277" stop-color="#f6c783"/><stop offset="0.327" stop-color="#f6bc73"/><stop offset="0.394" stop-color="#f7b163"/><stop offset="0.477" stop-color="#f8a44a"/><stop offset="0.576" stop-color="#fa9932"/><stop offset="0.693" stop-color="#fc9529"/><stop offset="0.826" stop-color="#fd911c"/><stop offset="1.000" stop-color="#ff7c04"/></linearGradient><linearGradient id="r32"><stop offset="0.000" stop-color="#f6f2cf"/><stop offset="0.028" stop-color="#f4efcb"/><stop offset="0.053" stop-color="#f3eec9"/><stop offset="0.078" stop-color="#f3edc7"/><stop offset="0.111" stop-color="#f4ebc4"/><stop offset="0.145" stop-color="#f4e9bf"/><stop offset="0.161" stop-color="#f4e7bc"/><stop offset="0.169" stop-color="#f5e6ba"/><stop offset="0.174" stop-color="#f5e6b9"/><stop offset="0.179" stop-color="#f5e5b8"/><stop offset="0.184" stop-color="#f5e4b6"/><stop offset="0.189" stop-color="#f5e3b4"/><stop offset="0.194" stop-color="#f5e2b2"/><stop offset="0.203" stop-color="#f5dfad"/><stop offset="0.214" stop-color="#f6dba6"/><stop offset="0.228" stop-color="#f6d79d"/><stop offset="0.252" stop-color="#f6ce8f"/><stop offset="0.277" stop-color="#f6c885"/><stop offset="0.327" stop-color="#f6be76"/><stop offset="0.394" stop-color="#f7b466"/><stop offset="0.477" stop-color="#f8a751"/><stop offset="0.576" stop-color="#fa9a35"/><stop offset="0.693" stop-color="#fb962b"/><stop offset="0.826" stop-color="#fd921f"/><stop offset="1.000" stop-color="#ff8309"/></linearGradient><linearGradient id="r33"><stop offset="0.000" stop-color="#f6f2cf"/><stop offset="0.028" stop-color="#f4efcb"/><stop offset="0.053" stop-color="#f3eec9"/><stop offset="0.078" stop-color="#f3edc8"/><stop offset="0.111" stop-color="#f4ebc4"/><stop offset="0.145" stop-color="#f4e9c0"/><stop offset="0.161" stop-color="#f4e7bc"/><stop offset="0.169" stop-color="#f5e6bb"/><stop offset="0.174" stop-color="#f5e6ba"/><stop offset="0.179" stop-color="#f5e5b9"/><stop offset="0.184" stop-color="#f5e5b7"/><stop offset="0.189" stop-color="#f5e4b5"/><stop offset="0.194" stop-color="#f5e2b3"/><stop offset="0.203" stop-color="#f5e0af"/><stop offset="0.214" stop-color="#f6dca8"/><stop offset="0.228" stop-color="#f6d8a0"/><stop offset="0.252" stop-color="#f6d091"/><stop offset="0.277" stop-color="#f6ca88"/><stop offset="0.327" stop-color="#f6c079"/><stop offset="0.394" stop-color="#f7b669"/><stop offset="0.477" stop-color="#f7ab58"/><stop offset="0.576" stop-color="#fa9c3a"/><stop offset="0.693" stop-color="#fb972d"/><stop offset="0.826" stop-color="#fd9322"/><stop offset="1.000" stop-color="#ff890d"/></linearGradient><linearGradient id="r34"><stop offset="0.000" stop-color="#f6f2cf"/><stop offset="0.028" stop-color="#f4efcb"/><stop offset="0.053" stop-color="#f3eec9"/><stop offset="0.078" stop-color="#f3edc8"/><stop offset="0.111" stop-color="#f4ebc5"/><stop offset="0.145" stop-color="#f4e9c0"/><stop offset="0.161" stop-color="#f4e7bd"/><stop offset="0.169" stop-color="#f4e7bb"/><stop offset="0.174" stop-color="#f5e6ba"/><stop offset="0.179" stop-color="#f5e6b9"/><stop offset="0.184" stop-color="#f5e5b8"/><stop offset="0.189" stop-color="#f5e4b6"/><stop offset="0.194" stop-color="#f5e3b4"/><stop offset="0.203" stop-color="#f5e1b0"/><stop offset="0.214" stop-color="#f5deaa"/><stop offset="0.228" stop-color="#f6daa3"/><stop offset="0.252" stop-color="#f6d295"/><stop offset="0.277" stop-color="#f6cb8a"/><stop offset="0.327" stop-color="#f6c27c"/><stop offset="0.394" stop-color="#f6b86d"/><stop offset="0.477" stop-color="#f7ae5f"/><stop offset="0.576" stop-color="#f9a040"/><stop offset="0.693" stop-color="#fb982f"/><stop offset="0.826" stop-color="#fc9424"/><stop offset="1.000" stop-color="#ff8c11"/></linearGradient><linearGradient id="r35"><stop offset="0.000" stop-color="#f6f2cf"/><stop offset="0.028" stop-color="#f4efcb"/><stop offset="0.053" stop-color="#f3eec9"/><stop offset="0.078" stop-color="#f3edc8"/><stop offset="0.111" stop-color="#f4ebc5"/><stop offset="0.145" stop-color="#f4e9c0"/><stop offset="0.161" stop-color="#f4e8bd"/><stop offset="0.169" stop-color="#f4e7bc"/><stop offset="0.174" stop-color="#f5e6bb"/><stop offset="0.179" stop-color="#f5e6ba"/><stop offset="0.184" stop-color="#f5e5b8"/><stop offset="0.189" stop-color="#f5e5b7"/><stop offset="0.194" stop-color="#f5e4b6"/><stop offset="0.203" stop-color="#f5e2b2"/><stop offset="0.214" stop-color="#f5dfac"/><stop offset="0.228" stop-color="#f6dba5"/><stop offset="0.252" stop-color="#f6d498"/><stop offset="0.277" stop-color="#f6cd8d"/><stop offset="0.327" stop-color="#f6c47f"/><stop offset="0.394" stop-color="#f6ba70"/><stop offset="0.477" stop-color="#f7b162"/><stop offset="0.576" stop-color="#f9a348"/><stop offset="0.693" stop-color="#fb9931"/><stop offset="0.826" stop-color="#fc9526"/><stop offset="1.000" stop-color="#fe8e15"/></linearGradient><linearGradient id="r36"><stop offset="0.000" stop-color="#f6f2cf"/><stop offset="0.028" stop-color="#f4efcb"/><stop offset="0.053" stop-color="#f3eec9"/><stop offset="0.078" stop-color="#f3edc8"/><stop offset="0.111" stop-color="#f4ebc5"/><stop offset="0.145" stop-color="#f4e9c0"/><stop offset="0.161" stop-color="#f4e8bd"/><stop offset="0.169" stop-color="#f4e7bc"/><stop offset="0.174" stop-color="#f4e7bb"/><stop offset="0.179" stop-color="#f5e6ba"/><stop offset="0.184" stop-color="#f5e6b9"/><stop offset="0.189" stop-color="#f5e5b8"/><stop offset="0.194" stop-color="#f5e4b7"/><stop offset="0.203" stop-color="#f5e3b4"/><stop offset="0.214" stop-color="#f5e0af"/><stop offset="0.228" stop-color="#f5dda9"/><stop offset="0.252" stop-color="#f6d69c"/><stop offset="0.277" stop-color="#f6cf91"/><stop offset="0.327" stop-color="#f6c683"/><stop offset="0.394" stop-color="#f6bd74"/><stop offset="0.477" stop-color="#f7b466"/><stop offset="0.576" stop-color="#f8a851"/><stop offset="0.693" stop-color="#fa9a34"/><stop offset="0.826" stop-color="#fc9529"/><stop offset="1.000" stop-color="#fe8f18"/></linearGradient><linearGradient id="r37"><stop offset="0.000" stop-color="#f6f2cf"/><stop offset="0.028" stop-color="#f4efcb"/><stop offset="0.053" stop-color="#f3eec9"/><stop offset="0.078" stop-color="#f3edc8"/><stop offset="0.111" stop-color="#f3ecc5"/><stop offset="0.145" stop-color="#f4e9c1"/><stop offset="0.161" stop-color="#f4e8be"/><stop offset="0.169" stop-color="#f4e7bc"/><stop offset="0.174" stop-color="#f4e7bc"/><stop offset="0.179" stop-color="#f5e6bb"/><stop offset="0.184" stop-color="#f5e6ba"/><stop offset="0.189" stop-color="#f5e5b9"/><stop offset="0.194" stop-color="#f5e5b8"/><stop offset="0.203" stop-color="#f5e4b6"/><stop offset="0.214" stop-color="#f5e1b1"/><stop offset="0.228" stop-color="#f5deac"/><stop offset="0.252" stop-color="#f6d9a1"/><stop offset="0.277" stop-color="#f6d296"/><stop offset="0.327" stop-color="#f6c987"/><stop offset="0.394" stop-color="#f6c079"/><stop offset="0.477" stop-color="#f7b76b"/><stop offset="0.576" stop-color="#f7ad5d"/><stop offset="0.693" stop-color="#fa9d3c"/><stop offset="0.826" stop-color="#fb962c"/><stop offset="1.000" stop-color="#fd901c"/></linearGradient><linearGradient id="r38"><stop offset="0.000" stop-color="#f6f2cf"/><stop offset="0.028" stop-color="#f4efcb"/><stop offset="0.053" stop-color="#f3eec9"/><stop offset="0.078" stop-color="#f3edc8"/><stop offset="0.111" stop-color="#f3ecc5"/><stop offset="0.145" stop-color="#f4eac1"/><stop offset="0.161" stop-color="#f4e8be"/><stop offset="0.169" stop-color="#f4e8bd"/><stop offset="0.174" stop-color="#f4e7bc"/><stop offset="0.179" stop-color="#f4e7bb"/><stop offset="0.184" stop-color="#f5e6ba"/><stop offset="0.189" stop-color="#f5e6ba"/><stop offset="0.194" stop-color="#f5e5b9"/><stop offset="0.203" stop-color="#f5e4b7"/><stop offset="0.214" stop-color="#f5e3b4"/><stop offset="0.228" stop-color="#f5e0af"/><stop offset="0.252" stop-color="#f6dba5"/><stop offset="0.277" stop-color="#f6d69b"/><stop offset="0.327" stop-color="#f6cb8b"/><stop offset="0.394" stop-color="#f6c37d"/><stop offset="0.477" stop-color="#f6ba6f"/><stop offset="0.576" stop-color="#f7b162"/><stop offset="0.693" stop-color="#f9a246"/><stop offset="0.826" stop-color="#fb982f"/><stop offset="1.000" stop-color="#fd911e"/></linearGradient><linearGradient id="r39"><stop offset="0.000" stop-color="#f6f2cf"/><stop offset="0.028" stop-color="#f4efcb"/><stop offset="0.053" stop-color="#f3eec9"/><stop offset="0.078" stop-color="#f3edc8"/><stop offset="0.111" stop-color="#f3ecc5"/><stop offset="0.145" stop-color="#f4eac1"/><stop offset="0.161" stop-color="#f4e8bf"/><stop offset="0.169" stop-color="#f4e8be"/><stop offset="0.174" stop-color="#f4e7bd"/><stop offset="0.179" stop-color="#f4e7bc"/><stop offset="0.184" stop-color="#f4e7bb"/><stop offset="0.189" stop-color="#f5e6ba"/><stop offset="0.194" stop-color="#f5e6ba"/><stop offset="0.203" stop-color="#f5e5b8"/><stop offset="0.214" stop-color="#f5e4b6"/><stop offset="0.228" stop-color="#f5e2b1"/><stop offset="0.252" stop-color="#f5dda9"/><stop offset="0.277" stop-color="#f6d8a0"/><stop offset="0.327" stop-color="#f6ce8f"/><stop offset="0.394" stop-color="#f6c681"/><stop offset="0.477" stop-color="#f6bd74"/><stop offset="0.576" stop-color="#f7b467"/><stop offset="0.693" stop-color="#f8a852"/><stop offset="0.826" stop-color="#fa9933"/><stop offset="1.000" stop-color="#fd9321"/></linearGradient><linearGradient id="r40"><stop offset="0.000" stop-color="#f6f2cf"/><stop offset="0.028" stop-color="#f4efcb"/><stop offset="0.053" stop-color="#f3eec9"/><stop offset="0.078" stop-color="#f3edc8"/><stop offset="0.111" stop-color="#f3ecc6"/><stop offset="0.145" stop-color="#f4eac2"/><stop offset="0.161" stop-color="#f4e9bf"/><stop offset="0.169" stop-color="#f4e8be"/><stop offset="0.174" stop-color="#f4e8bd"/><stop offset="0.179" stop-color="#f4e7bd"/><stop offset="0.184" stop-color="#f4e7bc"/><stop offset="0.189" stop-color="#f4e7bb"/><stop offset="0.194" stop-color="#f5e6ba"/><stop offset="0.203" stop-color="#f5e6b9"/><stop offset="0.214" stop-color="#f5e5b7"/><stop offset="0.228" stop-color="#f5e3b4"/><stop offset="0.252" stop-color="#f5dfac"/><stop offset="0.277" stop-color="#f6daa4"/><stop offset="0.327" stop-color="#f6d194"/><stop offset="0.394" stop-color="#f6c885"/><stop offset="0.477" stop-color="#f6c079"/><stop offset="0.576" stop-color="#f7b76c"/><stop offset="0.693" stop-color="#f7ae5f"/><stop offset="0.826" stop-color="#fa9c3a"/><stop offset="1.000" stop-color="#fc9425"/></linearGradient><linearGradient id="r41"><stop offset="0.000" stop-color="#f6f2cf"/><stop offset="0.028" stop-color="#f4efcb"/><stop offset="0.053" stop-color="#f3eec9"/><stop offset="0.078" stop-color="#f3edc8"/><stop offset="0.111" stop-color="#f3ecc6"/><stop offset="0.145" stop-color="#f4eac2"/><stop offset="0.161" stop-color="#f4e9c0"/><stop offset="0.169" stop-color="#f4e8bf"/><stop offset="0.174" stop-color="#f4e8be"/><stop offset="0.179" stop-color="#f4e8bd"/><stop offset="0.184" stop-color="#f4e7bd"/><stop offset="0.189" stop-color="#f4e7bc"/><stop offset="0.194" stop-color="#f4e7bb"/><stop offset="0.203" stop-color="#f5e6ba"/><stop offset="0.214" stop-color="#f5e5b8"/><stop offset="0.228" stop-color="#f5e4b6"/><stop offset="0.252" stop-color="#f5e0af"/><stop offset="0.277" stop-color="#f6dca8"/><stop offset="0.327" stop-color="#f6d599"/><stop offset="0.394" stop-color="#f6cb89"/><stop offset="0.477" stop-color="#f6c37d"/><stop offset="0.576" stop-color="#f6ba70"/><stop offset="0.693" stop-color="#f7b264"/><stop offset="0.826" stop-color="#f9a246"/><stop offset="1.000" stop-color="#fc9528"/></linearGradient><linearGradient id="r42"><stop offset="0.000" stop-color="#f6f2cf"/><stop offset="0.028" stop-color="#f4efcb"/><stop offset="0.053" stop-color="#f3eec9"/><stop offset="0.078" stop-color="#f3edc8"/><stop offset="0.111" stop-color="#f3ecc6"/><stop offset="0.145" stop-color="#f4eac3"/><stop offset="0.161" stop-color="#f4e9c0"/><stop offset="0.169" stop-color="#f4e9bf"/><stop offset="0.174" stop-color="#f4e8bf"/><stop offset="0.179" stop-color="#f4e8be"/><stop offset="0.184" stop-color="#f4e8bd"/><stop offset="0.189" stop-color="#f4e7bd"/><stop offset="0.194" stop-color="#f4e7bc"/><stop offset="0.203" stop-color="#f5e6bb"/><stop offset="0.214" stop-color="#f5e6b9"/><stop offset="0.228" stop-color="#f5e5b7"/><stop offset="0.252" stop-color="#f5e2b2"/><stop offset="0.277" stop-color="#f5deab"/><stop offset="0.327" stop-color="#f6d79e"/><stop offset="0.394" stop-color="#f6cd8d"/><stop offset="0.477" stop-color="#f6c581"/><stop offset="0.576" stop-color="#f6bd74"/><stop offset="0.693" stop-color="#f7b568"/><stop offset="0.826" stop-color="#f8a853"/><stop offset="1.000" stop-color="#fb972c"/></linearGradient><linearGradient id="r43"><stop offset="0.000" stop-color="#f6f2cf"/><stop offset="0.028" stop-color="#f4efcb"/><stop offset="0.053" stop-color="#f3eec9"/><stop offset="0.078" stop-color="#f3edc8"/><stop offset="0.111" stop-color="#f3ecc6"/><stop offset="0.145" stop-color="#f4eac3"/><stop offset="0.161" stop-color="#f4e9c1"/><stop offset="0.169" stop-color="#f4e9c0"/><stop offset="0.174" stop-color="#f4e9bf"/><stop offset="0.179" stop-color="#f4e8bf"/><stop offset="0.184" stop-color="#f4e8be"/><stop offset="0.189" stop-color="#f4e8bd"/><stop offset="0.194" stop-color="#f4e7bd"/><stop offset="0.203" stop-color="#f4e7bc"/><stop offset="0.214" stop-color="#f5e6ba"/><stop offset="0.228" stop-color="#f5e5b8"/><stop offset="0.252" stop-color="#f5e3b4"/><stop offset="0.277" stop-color="#f5e0ae"/><stop offset="0.327" stop-color="#f6d9a2"/><stop offset="0.394" stop-color="#f6d092"/><stop offset="0.477" stop-color="#f6c784"/><stop offset="0.576" stop-color="#f6c078"/><stop offset="0.693" stop-color="#f6b86c"/><stop offset="0.826" stop-color="#f7ae5f"/><stop offset="1.000" stop-color="#fb9831"/></linearGradient><linearGradient id="r44"><stop offset="0.000" stop-color="#f6f2cf"/><stop offset="0.028" stop-color="#f4efcb"/><stop offset="0.053" stop-color="#f3eec9"/><stop offset="0.078" stop-color="#f3edc8"/><stop offset="0.111" stop-color="#f3ecc6"/><stop offset="0.145" stop-color="#f4ebc3"/><stop offset="0.161" stop-color="#f4eac1"/><stop offset="0.169" stop-color="#f4e9c1"/><stop offset="0.174" stop-color="#f4e9c0"/><stop offset="0.179" stop-color="#f4e9bf"/><stop offset="0.184" stop-color="#f4e8bf"/><stop offset="0.189" stop-color="#f4e8be"/><stop offset="0.194" stop-color="#f4e8bd"/><stop offset="0.203" stop-color="#f4e7bc"/><stop offset="0.214" stop-color="#f5e6bb"/><stop offset="0.228" stop-color="#f5e6b9"/><stop offset="0.252" stop-color="#f5e4b6"/><stop offset="0.277" stop-color="#f5e1b0"/><stop offset="0.327" stop-color="#f6dba5"/><stop offset="0.394" stop-color="#f6d296"/><stop offset="0.477" stop-color="#f6c987"/><stop offset="0.576" stop-color="#f6c27c"/><stop offset="0.693" stop-color="#f6ba70"/><stop offset="0.826" stop-color="#f7b263"/><stop offset="1.000" stop-color="#fa9b37"/></linearGradient><linearGradient id="r45"><stop offset="0.000" stop-color="#f6f2cf"/><stop offset="0.028" stop-color="#f4efcb"/><stop offset="0.053" stop-color="#f3eeca"/><stop offset="0.078" stop-color="#f3edc8"/><stop offset="0.111" stop-color="#f3ecc7"/><stop offset="0.145" stop-color="#f4ebc4"/><stop offset="0.161" stop-color="#f4eac2"/><stop offset="0.169" stop-color="#f4eac1"/><stop offset="0.174" stop-color="#f4e9c1"/><stop offset="0.179" stop-color="#f4e9c0"/><stop offset="0.184" stop-color="#f4e9bf"/><stop offset="0.189" stop-color="#f4e8bf"/><stop offset="0.194" stop-color="#f4e8be"/><stop offset="0.203" stop-color="#f4e8bd"/><stop offset="0.214" stop-color="#f4e7bc"/><stop offset="0.228" stop-color="#f5e6ba"/><stop offset="0.252" stop-color="#f5e4b7"/><stop offset="0.277" stop-color="#f5e2b3"/><stop offset="0.327" stop-color="#f5dda8"/><stop offset="0.394" stop-color="#f6d59a"/><stop offset="0.477" stop-color="#f6cb8b"/><stop offset="0.576" stop-color="#f6c47f"/><stop offset="0.693" stop-color="#f6bc73"/><stop offset="0.826" stop-color="#f7b467"/><stop offset="1.000" stop-color="#f9a042"/></linearGradient><linearGradient id="r46"><stop offset="0.000" stop-color="#f6f2cf"/><stop offset="0.028" stop-color="#f4f0cc"/><stop offset="0.053" stop-color="#f3eeca"/><stop offset="0.078" stop-color="#f3edc9"/><stop offset="0.111" stop-color="#f3ecc7"/><stop offset="0.145" stop-color="#f4ebc5"/><stop offset="0.161" stop-color="#f4eac3"/><stop offset="0.169" stop-color="#f4eac2"/><stop offset="0.174" stop-color="#f4eac1"/><stop offset="0.179" stop-color="#f4e9c1"/><stop offset="0.184" stop-color="#f4e9c0"/><stop offset="0.189" stop-color="#f4e9c0"/><stop offset="0.194" stop-color="#f4e9bf"/><stop offset="0.203" stop-color="#f4e8be"/><stop offset="0.214" stop-color="#f4e7bd"/><stop offset="0.228" stop-color="#f4e7bb"/><stop offset="0.252" stop-color="#f5e5b8"/><stop offset="0.277" stop-color="#f5e3b5"/><stop offset="0.327" stop-color="#f5deab"/><stop offset="0.394" stop-color="#f6d79e"/><stop offset="0.477" stop-color="#f6ce8f"/><stop offset="0.576" stop-color="#f6c682"/><stop offset="0.693" stop-color="#f6bf76"/><stop offset="0.826" stop-color="#f7b66a"/><stop offset="1.000" stop-color="#f8a64e"/></linearGradient><linearGradient id="r47"><stop offset="0.000" stop-color="#f6f2cf"/><stop offset="0.028" stop-color="#f4f0cc"/><stop offset="0.053" stop-color="#f3eeca"/><stop offset="0.078" stop-color="#f3edc9"/><stop offset="0.111" stop-color="#f3edc7"/><stop offset="0.145" stop-color="#f3ecc5"/><stop offset="0.161" stop-color="#f4ebc4"/><stop offset="0.169" stop-color="#f4ebc3"/><stop offset="0.174" stop-color="#f4eac3"/><stop offset="0.179" stop-color="#f4eac2"/><stop offset="0.184" stop-color="#f4eac2"/><stop offset="0.189" stop-color="#f4eac1"/><stop offset="0.194" stop-color="#f4e9c0"/><stop offset="0.203" stop-color="#f4e9bf"/><stop offset="0.214" stop-color="#f4e8be"/><stop offset="0.228" stop-color="#f4e7bc"/><stop offset="0.252" stop-color="#f5e6b9"/><stop offset="0.277" stop-color="#f5e4b7"/><stop offset="0.327" stop-color="#f5e0ae"/><stop offset="0.394" stop-color="#f6d9a2"/><stop offset="0.477" stop-color="#f6d193"/><stop offset="0.576" stop-color="#f6c886"/><stop offset="0.693" stop-color="#f6c17a"/><stop offset="0.826" stop-color="#f6b96e"/><stop offset="1.000" stop-color="#f7ac5a"/></linearGradient><linearGradient id="r48"><stop offset="0.000" stop-color="#f6f2cf"/><stop offset="0.028" stop-color="#f5f0cc"/><stop offset="0.053" stop-color="#f3eeca"/><stop offset="0.078" stop-color="#f3eec9"/><stop offset="0.111" stop-color="#f3edc8"/><stop offset="0.145" stop-color="#f3ecc6"/><stop offset="0.161" stop-color="#f3ecc5"/><stop offset="0.169" stop-color="#f4ebc5"/><stop offset="0.174" stop-color="#f4ebc4"/><stop offset="0.179" stop-color="#f4ebc4"/><stop offset="0.184" stop-color="#f4ebc3"/><stop offset="0.189" stop-color="#f4eac2"/><stop offset="0.194" stop-color="#f4eac2"/><stop offset="0.203" stop-color="#f4e9c1"/><stop offset="0.214" stop-color="#f4e9bf"/><stop offset="0.228" stop-color="#f4e8be"/><stop offset="0.252" stop-color="#f5e6bb"/><stop offset="0.277" stop-color="#f5e5b8"/><stop offset="0.327" stop-color="#f5e1b1"/><stop offset="0.394" stop-color="#f6dba6"/><stop offset="0.477" stop-color="#f6d498"/><stop offset="0.576" stop-color="#f6cb89"/><stop offset="0.693" stop-color="#f6c37d"/><stop offset="0.826" stop-color="#f6bb71"/><stop offset="1.000" stop-color="#f7b061"/></linearGradient><linearGradient id="r49"><stop offset="0.000" stop-color="#f6f2cf"/><stop offset="0.028" stop-color="#f5f0cc"/><stop offset="0.053" stop-color="#f3efcb"/><stop offset="0.078" stop-color="#f3eeca"/><stop offset="0.111" stop-color="#f3edc8"/><stop offset="0.145" stop-color="#f3edc7"/><stop offset="0.161" stop-color="#f3ecc6"/><stop offset="0.169" stop-color="#f3ecc6"/><stop offset="0.174" stop-color="#f3ecc5"/><stop offset="0.179" stop-color="#f4ebc5"/><stop offset="0.184" stop-color="#f4ebc4"/><stop offset="0.189" stop-color="#f4ebc4"/><stop offset="0.194" stop-color="#f4ebc3"/><stop offset="0.203" stop-color="#f4eac3"/><stop offset="0.214" stop-color="#f4eac1"/><stop offset="0.228" stop-color="#f4e9bf"/><stop offset="0.252" stop-color="#f4e7bc"/><stop offset="0.277" stop-color="#f5e6b9"/><stop offset="0.327" stop-color="#f5e2b3"/><stop offset="0.394" stop-color="#f5dda9"/><stop offset="0.477" stop-color="#f6d69c"/><stop offset="0.576" stop-color="#f6cd8d"/><stop offset="0.693" stop-color="#f6c580"/><stop offset="0.826" stop-color="#f6bd74"/><stop offset="1.000" stop-color="#f7b264"/></linearGradient><linearGradient id="r50"><stop offset="0.000" stop-color="#f6f2cf"/><stop offset="0.028" stop-color="#f5f0cd"/><stop offset="0.053" stop-color="#f4efcb"/><stop offset="0.078" stop-color="#f3eeca"/><stop offset="0.111" stop-color="#f3edc9"/><stop offset="0.145" stop-color="#f3edc8"/><stop offset="0.161" stop-color="#f3ecc7"/><stop offset="0.169" stop-color="#f3ecc7"/><stop offset="0.174" stop-color="#f3ecc6"/><stop offset="0.179" stop-color="#f3ecc6"/><stop offset="0.184" stop-color="#f3ecc6"/><stop offset="0.189" stop-color="#f3ecc5"/><stop offset="0.194" stop-color="#f4ebc5"/><stop offset="0.203" stop-color="#f4ebc4"/><stop offset="0.214" stop-color="#f4eac3"/><stop offset="0.228" stop-color="#f4eac1"/><stop offset="0.252" stop-color="#f4e8be"/><stop offset="0.277" stop-color="#f5e6bb"/><stop offset="0.327" stop-color="#f5e4b5"/><stop offset="0.394" stop-color="#f5deab"/><stop offset="0.477" stop-color="#f6d89f"/><stop offset="0.576" stop-color="#f6d091"/><stop offset="0.693" stop-color="#f6c784"/><stop offset="0.826" stop-color="#f6bf77"/><stop offset="1.000" stop-color="#f7b568"/></linearGradient><linearGradient id="r51"><stop offset="0.000" stop-color="#f6f2cf"/><stop offset="0.028" stop-color="#f5f1cd"/><stop offset="0.053" stop-color="#f4efcb"/><stop offset="0.078" stop-color="#f3eeca"/><stop offset="0.111" stop-color="#f3eec9"/><stop offset="0.145" stop-color="#f3edc8"/><stop offset="0.161" stop-color="#f3edc7"/><stop offset="0.169" stop-color="#f3edc7"/><stop offset="0.174" stop-color="#f3ecc7"/><stop offset="0.179" stop-color="#f3ecc7"/><stop offset="0.184" stop-color="#f3ecc6"/><stop offset="0.189" stop-color="#f3ecc6"/><stop offset="0.194" stop-color="#f3ecc6"/><stop offset="0.203" stop-color="#f3ecc5"/><stop offset="0.214" stop-color="#f4ebc4"/><stop offset="0.228" stop-color="#f4eac3"/><stop offset="0.252" stop-color="#f4e9bf"/><stop offset="0.277" stop-color="#f4e7bc"/><stop offset="0.327" stop-color="#f5e4b7"/><stop offset="0.394" stop-color="#f5dfae"/><stop offset="0.477" stop-color="#f6d9a2"/><stop offset="0.576" stop-color="#f6d295"/><stop offset="0.693" stop-color="#f6c987"/><stop offset="0.826" stop-color="#f6c17a"/><stop offset="1.000" stop-color="#f7b76b"/></linearGradient><linearGradient id="r52"><stop offset="0.000" stop-color="#f6f2cf"/><stop offset="0.028" stop-color="#f5f1cd"/><stop offset="0.053" stop-color="#f4efcb"/><stop offset="0.078" stop-color="#f3eeca"/><stop offset="0.111" stop-color="#f3eec9"/><stop offset="0.145" stop-color="#f3edc8"/><stop offset="0.161" stop-color="#f3edc8"/><stop offset="0.169" stop-color="#f3edc7"/><stop offset="0.174" stop-color="#f3edc7"/><stop offset="0.179" stop-color="#f3edc7"/><stop offset="0.184" stop-color="#f3ecc7"/><stop offset="0.189" stop-color="#f3ecc7"/><stop offset="0.194" stop-color="#f3ecc6"/><stop offset="0.203" stop-color="#f3ecc6"/><stop offset="0.214" stop-color="#f3ecc5"/><stop offset="0.228" stop-color="#f4ebc4"/><stop offset="0.252" stop-color="#f4e9c1"/><stop offset="0.277" stop-color="#f4e8be"/><stop offset="0.327" stop-color="#f5e5b8"/><stop offset="0.394" stop-color="#f5e1b0"/><stop offset="0.477" stop-color="#f6dba4"/><stop offset="0.576" stop-color="#f6d498"/><stop offset="0.693" stop-color="#f6cb8a"/><stop offset="0.826" stop-color="#f6c37d"/><stop offset="1.000" stop-color="#f6b96d"/></linearGradient><linearGradient id="r53"><stop offset="0.000" stop-color="#f6f2cf"/><stop offset="0.028" stop-color="#f5f1cd"/><stop offset="0.053" stop-color="#f4efcb"/><stop offset="0.078" stop-color="#f3eeca"/><stop offset="0.111" stop-color="#f3eec9"/><stop offset="0.145" stop-color="#f3edc8"/><stop offset="0.161" stop-color="#f3edc8"/><stop offset="0.169" stop-color="#f3edc8"/><stop offset="0.174" stop-color="#f3edc7"/><stop offset="0.179" stop-color="#f3edc7"/><stop offset="0.184" stop-color="#f3edc7"/><stop offset="0.189" stop-color="#f3ecc7"/><stop offset="0.194" stop-color="#f3ecc7"/><stop offset="0.203" stop-color="#f3ecc6"/><stop offset="0.214" stop-color="#f3ecc6"/><stop offset="0.228" stop-color="#f4ebc5"/><stop offset="0.252" stop-color="#f4eac2"/><stop offset="0.277" stop-color="#f4e8bf"/><stop offset="0.327" stop-color="#f5e6b9"/><stop offset="0.394" stop-color="#f5e1b1"/><stop offset="0.477" stop-color="#f6dca6"/><stop offset="0.576" stop-color="#f6d59a"/><stop offset="0.693" stop-color="#f6cc8c"/><stop offset="0.826" stop-color="#f6c47f"/><stop offset="1.000" stop-color="#f6ba70"/></linearGradient><linearGradient id="r54"><stop offset="0.000" stop-color="#f6f2cf"/><stop offset="0.028" stop-color="#f5f1cd"/><stop offset="0.053" stop-color="#f4efcc"/><stop offset="0.078" stop-color="#f3eeca"/><stop offset="0.111" stop-color="#f3eec9"/><stop offset="0.145" stop-color="#f3edc9"/><stop offset="0.161" stop-color="#f3edc8"/><stop offset="0.169" stop-color="#f3edc8"/><stop offset="0.174" stop-color="#f3edc8"/><stop offset="0.179" stop-color="#f3edc8"/><stop offset="0.184" stop-color="#f3edc7"/><stop offset="0.189" stop-color="#f3edc7"/><stop offset="0.194" stop-color="#f3ecc7"/><stop offset="0.203" stop-color="#f3ecc7"/><stop offset="0.214" stop-color="#f3ecc6"/><stop offset="0.228" stop-color="#f3ecc5"/><stop offset="0.252" stop-color="#f4eac3"/><stop offset="0.277" stop-color="#f4e9c0"/><stop offset="0.327" stop-color="#f5e6ba"/><stop offset="0.394" stop-color="#f5e2b3"/><stop offset="0.477" stop-color="#f5dda8"/><stop offset="0.576" stop-color="#f6d69c"/><stop offset="0.693" stop-color="#f6ce8e"/><stop offset="0.826" stop-color="#f6c581"/><stop offset="1.000" stop-color="#f6bb72"/></linearGradient><linearGradient id="r55"><stop offset="0.000" stop-color="#f6f2cf"/><stop offset="0.028" stop-color="#f5f1cd"/><stop offset="0.053" stop-color="#f4f0cc"/><stop offset="0.078" stop-color="#f3eeca"/><stop offset="0.111" stop-color="#f3eec9"/><stop offset="0.145" stop-color="#f3edc9"/><stop offset="0.161" stop-color="#f3edc8"/><stop offset="0.169" stop-color="#f3edc8"/><stop offset="0.174" stop-color="#f3edc8"/><stop offset="0.179" stop-color="#f3edc8"/><stop offset="0.184" stop-color="#f3edc8"/><stop offset="0.189" stop-color="#f3edc7"/><stop offset="0.194" stop-color="#f3edc7"/><stop offset="0.203" stop-color="#f3ecc7"/><stop offset="0.214" stop-color="#f3ecc6"/><stop offset="0.228" stop-color="#f3ecc6"/><stop offset="0.252" stop-color="#f4ebc4"/><stop offset="0.277" stop-color="#f4e9c1"/><stop offset="0.327" stop-color="#f5e6bb"/><stop offset="0.394" stop-color="#f5e3b4"/><stop offset="0.477" stop-color="#f5deaa"/><stop offset="0.576" stop-color="#f6d79e"/><stop offset="0.693" stop-color="#f6cf91"/><stop offset="0.826" stop-color="#f6c783"/><stop offset="1.000" stop-color="#f6bd74"/></linearGradient><linearGradient id="r56"><stop offset="0.000" stop-color="#f6f2cf"/><stop offset="0.028" stop-color="#f5f1cd"/><stop offset="0.053" stop-color="#f4f0cc"/><stop offset="0.078" stop-color="#f3eeca"/><stop offset="0.111" stop-color="#f3eeca"/><stop offset="0.145" stop-color="#f3edc9"/><stop offset="0.161" stop-color="#f3edc8"/><stop offset="0.169" stop-color="#f3edc8"/><stop offset="0.174" stop-color="#f3edc8"/><stop offset="0.179" stop-color="#f3edc8"/><stop offset="0.184" stop-color="#f3edc8"/><stop offset="0.189" stop-color="#f3edc8"/><stop offset="0.194" stop-color="#f3edc7"/><stop offset="0.203" stop-color="#f3edc7"/><stop offset="0.214" stop-color="#f3ecc7"/><stop offset="0.228" stop-color="#f3ecc6"/><stop offset="0.252" stop-color="#f4ebc4"/><stop offset="0.277" stop-color="#f4eac2"/><stop offset="0.327" stop-color="#f4e7bc"/><stop offset="0.394" stop-color="#f5e4b6"/><stop offset="0.477" stop-color="#f5deac"/><stop offset="0.576" stop-color="#f6d8a0"/><stop offset="0.693" stop-color="#f6d093"/><stop offset="0.826" stop-color="#f6c885"/><stop offset="1.000" stop-color="#f6be76"/></linearGradient><linearGradient id="r57"><stop offset="0.000" stop-color="#f6f2cf"/><stop offset="0.028" stop-color="#f5f1cd"/><stop offset="0.053" stop-color="#f4f0cc"/><stop offset="0.078" stop-color="#f3efcb"/><stop offset="0.111" stop-color="#f3eeca"/><stop offset="0.145" stop-color="#f3edc9"/><stop offset="0.161" stop-color="#f3edc8"/><stop offset="0.169" stop-color="#f3edc8"/><stop offset="0.174" stop-color="#f3edc8"/><stop offset="0.179" stop-color="#f3edc8"/><stop offset="0.184" stop-color="#f3edc8"/><stop offset="0.189" stop-color="#f3edc8"/><stop offset="0.194" stop-color="#f3edc7"/><stop offset="0.203" stop-color="#f3edc7"/><stop offset="0.214" stop-color="#f3ecc7"/><stop offset="0.228" stop-color="#f3ecc6"/><stop offset="0.252" stop-color="#f4ebc5"/><stop offset="0.277" stop-color="#f4eac2"/><stop offset="0.327" stop-color="#f4e7bd"/><stop offset="0.394" stop-color="#f5e4b7"/><stop offset="0.477" stop-color="#f5dfad"/><stop offset="0.576" stop-color="#f6d9a2"/><stop offset="0.693" stop-color="#f6d295"/><stop offset="0.826" stop-color="#f6c987"/><stop offset="1.000" stop-color="#f6bf77"/></linearGradient><linearGradient id="r58"><stop offset="0.000" stop-color="#f6f2cf"/><stop offset="0.028" stop-color="#f5f1cd"/><stop offset="0.053" stop-color="#f4f0cc"/><stop offset="0.078" stop-color="#f3efcb"/><stop offset="0.111" stop-color="#f3eeca"/><stop offset="0.145" stop-color="#f3edc9"/><stop offset="0.161" stop-color="#f3edc9"/><stop offset="0.169" stop-color="#f3edc8"/><stop offset="0.174" stop-color="#f3edc8"/><stop offset="0.179" stop-color="#f3edc8"/><stop offset="0.184" stop-color="#f3edc8"/><stop offset="0.189" stop-color="#f3edc8"/><stop offset="0.194" stop-color="#f3edc8"/><stop offset="0.203" stop-color="#f3edc7"/><stop offset="0.214" stop-color="#f3ecc7"/><stop offset="0.228" stop-color="#f3ecc6"/><stop offset="0.252" stop-color="#f3ecc5"/><stop offset="0.277" stop-color="#f4ebc3"/><stop offset="0.327" stop-color="#f4e8be"/><stop offset="0.394" stop-color="#f5e5b8"/><stop offset="0.477" stop-color="#f5e0af"/><stop offset="0.576" stop-color="#f6daa3"/><stop offset="0.693" stop-color="#f6d397"/><stop offset="0.826" stop-color="#f6ca88"/><stop offset="1.000" stop-color="#f6c079"/></linearGradient><linearGradient id="r59"><stop offset="0.000" stop-color="#f6f2cf"/><stop offset="0.028" stop-color="#f5f1cd"/><stop offset="0.053" stop-color="#f4f0cc"/><stop offset="0.078" stop-color="#f4efcb"/><stop offset="0.111" stop-color="#f3eeca"/><stop offset="0.145" stop-color="#f3eec9"/><stop offset="0.161" stop-color="#f3edc9"/><stop offset="0.169" stop-color="#f3edc8"/><stop offset="0.174" stop-color="#f3edc8"/><stop offset="0.179" stop-color="#f3edc8"/><stop offset="0.184" stop-color="#f3edc8"/><stop offset="0.189" stop-color="#f3edc8"/><stop offset="0.194" stop-color="#f3edc8"/><stop offset="0.203" stop-color="#f3edc8"/><stop offset="0.214" stop-color="#f3edc7"/><stop offset="0.228" stop-color="#f3ecc7"/><stop offset="0.252" stop-color="#f3ecc6"/><stop offset="0.277" stop-color="#f4ebc4"/><stop offset="0.327" stop-color="#f4e8bf"/><stop offset="0.394" stop-color="#f5e5b8"/><stop offset="0.477" stop-color="#f5e1b0"/><stop offset="0.576" stop-color="#f6dba5"/><stop offset="0.693" stop-color="#f6d498"/><stop offset="0.826" stop-color="#f6cb8a"/><stop offset="1.000" stop-color="#f6c27b"/></linearGradient><linearGradient id="r60"><stop offset="0.000" stop-color="#f6f2cf"/><stop offset="0.028" stop-color="#f5f1cd"/><stop offset="0.053" stop-color="#f4f0cc"/><stop offset="0.078" stop-color="#f4efcb"/><stop offset="0.111" stop-color="#f3eeca"/><stop offset="0.145" stop-color="#f3eec9"/><stop offset="0.161" stop-color="#f3edc9"/><stop offset="0.169" stop-color="#f3edc9"/><stop offset="0.174" stop-color="#f3edc8"/><stop offset="0.179" stop-color="#f3edc8"/><stop offset="0.184" stop-color="#f3edc8"/><stop offset="0.189" stop-color="#f3edc8"/><stop offset="0.194" stop-color="#f3edc8"/><stop offset="0.203" stop-color="#f3edc8"/><stop offset="0.214" stop-color="#f3edc7"/><stop offset="0.228" stop-color="#f3ecc7"/><stop offset="0.252" stop-color="#f3ecc6"/><stop offset="0.277" stop-color="#f4ebc4"/><stop offset="0.327" stop-color="#f4e9c0"/><stop offset="0.394" stop-color="#f5e6b9"/><stop offset="0.477" stop-color="#f5e1b1"/><stop offset="0.576" stop-color="#f6dca6"/><stop offset="0.693" stop-color="#f6d59a"/><stop offset="0.826" stop-color="#f6cc8c"/><stop offset="1.000" stop-color="#f6c37c"/></linearGradient></defs><rect x="0" y="0" width="602" height="9" fill="url(#r0)"/><rect x="0" y="8" width="602" height="9" fill="url(#r1)"/><rect x="0" y="16" width="602" height="9" fill="url(#r2)"/><rect x="0" y="24" width="602" height="9" fill="url(#r3)"/><rect x="0" y="32" width="602" height="9" fill="url(#r4)"/><rect x="0" y="40" width="602" height="9" fill="url(#r5)"/><rect x="0" y="48" width="602" height="9" fill="url(#r6)"/><rect x="0" y="56" width="602" height="9" fill="url(#r7)"/><rect x="0" y="64" width="602" height="9" fill="url(#r8)"/><rect x="0" y="72" width="602" height="9" fill="url(#r9)"/><rect x="0" y="80" width="602" height="9" fill="url(#r10)"/><rect x="0" y="88" width="602" height="9" fill="url(#r11)"/><rect x="0" y="96" width="602" height="9" fill="url(#r12)"/><rect x="0" y="104" width="602" height="9" fill="url(#r13)"/><rect x="0" y="112" width="602" height="9" fill="url(#r14)"/><rect x="0" y="120" width="602" height="9" fill="url(#r15)"/><rect x="0" y="128" width="602" height="9" fill="url(#r16)"/><rect x="0" y="136" width="602" height="9" fill="url(#r17)"/><rect x="0" y="144" width="602" height="9" fill="url(#r18)"/><rect x="0" y="152" width="602" height="9" fill="url(#r19)"/><rect x="0" y="160" width="602" height="9" fill="url(#r20)"/><rect x="0" y="168" width="602" height="9" fill="url(#r21)"/><rect x="0" y="176" width="602" height="9" fill="url(#r22)"/><rect x="0" y="184" width="602" height="9" fill="url(#r23)"/><rect x="0" y="192" width="602" height="9" fill="url(#r24)"/><rect x="0" y="200" width="602" height="9" fill="url(#r25)"/><rect x="0" y="208" width="602" height="9" fill="url(#r26)"/><rect x="0" y="216" width="602" height="9" fill="url(#r27)"/><rect x="0" y="224" width="602" height="9" fill="url(#r28)"/><rect x="0" y="232" width="602" height="9" fill="url(#r29)"/><rect x="0" y="240" width="602" height="9" fill="url(#r30)"/><rect x="0" y="248" width="602" height="9" fill="url(#r31)"/><rect x="0" y="256" width="602" height="9" fill="url(#r32)"/><rect x="0" y="264" width="602" height="9" fill="url(#r33)"/><rect x="0" y="272" width="602" height="9" fill="url(#r34)"/><rect x="0" y="280" width="602" height="9" fill="url(#r35)"/><rect x="0" y="288" width="602" height="9" fill="url(#r36)"/><rect x="0" y="296" width="602" height="9" fill="url(#r37)"/><rect x="0" y="304" width="602" height="9" fill="url(#r38)"/><rect x="0" y="312" width="602" height="9" fill="url(#r39)"/><rect x="0" y="320" width="602" height="9" fill="url(#r40)"/><rect x="0" y="328" width="602" height="9" fill="url(#r41)"/><rect x="0" y="336" width="602" height="9" fill="url(#r42)"/><rect x="0" y="344" width="602" height="9" fill="url(#r43)"/><rect x="0" y="352" width="602" height="9" fill="url(#r44)"/><rect x="0" y="360" width="602" height="9" fill="url(#r45)"/><rect x="0" y="368" width="602" height="9" fill="url(#r46)"/><rect x="0" y="376" width="602" height="9" fill="url(#r47)"/><rect x="0" y="384" width="602" height="9" fill="url(#r48)"/><rect x="0" y="392" width="602" height="9" fill="url(#r49)"/><rect x="0" y="400" width="602" height="9" fill="url(#r50)"/><rect x="0" y="408" width="602" height="9" fill="url(#r51)"/><rect x="0" y="416" width="602" height="9" fill="url(#r52)"/><rect x="0" y="424" width="602" height="9" fill="url(#r53)"/><rect x="0" y="432" width="602" height="9" fill="url(#r54)"/><rect x="0" y="440" width="602" height="9" fill="url(#r55)"/><rect x="0" y="448" width="602" height="9" fill="url(#r56)"/><rect x="0" y="456" width="602" height="9" fill="url(#r57)"/><rect x="0" y="464" width="602" height="9" fill="url(#r58)"/><rect x="0" y="472" width="602" height="9" fill="url(#r59)"/><rect x="0" y="480" width="602" height="9" fill="url(#r60)"/></svg>
<canvas id="hm" width="602" height="488"></canvas>

<script>
(function(){
var cm=[[0.0, [253, 251, 216]], [0.03, [243, 238, 202]], [0.14, [245, 228, 182]], [0.25, [246, 213, 154]], [0.36, [246, 193, 122]], [0.45, [247, 174, 94]], [0.5, [250, 154, 53]], [0.61, [255, 140, 16]], [0.68, [255, 118, 0]], [0.75, [255, 80, 0]], [0.83, [255, 48, 0]], [0.9, [255, 10, 0]], [0.955, [245, 0, 0]], [1.0, [221, 0, 0]]], LV=[0.02, 0.05, 0.12, 0.3, 0.45, 0.6, 0.7, 0.8, 0.9, 0.97], ROWS=[[180, [183, 230, 285, 290, 297, 345, 480, 600, 710, 785]], [265, [183, 230, 287, 295, 310, 385, 500, 640, 730, 840]], [340, [183, 230, 288, 305, 340, 510, 620, 760, 860, 960]], [400, [183, 235, 284, 325, 400, 650, 740, 860, 980, 1100]], [460, [183, 240, 290, 350, 480, 785, 900, 1050, 1200, 1300]], [540, [183, 250, 320, 460, 720, 950, 1100, 1250, 1400, 1500]], [600, [183, 300, 370, 590, 880, 1100, 1300, 1450, 1600, 1700]], [668, [183, 330, 420, 690, 1000, 1250, 1450, 1600, 1750, 1850]]];
var PL=183, PT=180;
function pchipCoef(xs, ys){
  var n=xs.length, h=[], d=[], m=new Array(n);
  for(var i=0;i<n-1;i++){ h[i]=xs[i+1]-xs[i]; d[i]=(ys[i+1]-ys[i])/h[i]; }
  m[0]=d[0]; m[n-1]=d[n-2];
  for(var i=1;i<n-1;i++){ if(d[i-1]*d[i]<=0) m[i]=0; else { var w1=2*h[i]+h[i-1], w2=h[i]+2*h[i-1]; m[i]=(w1+w2)/(w1/d[i-1]+w2/d[i]); } }
  return {xs:xs, ys:ys, m:m, h:h};
}
function pchipEval(c, x){
  var xs=c.xs, n=xs.length;
  if(x<=xs[0]) return c.ys[0]; if(x>=xs[n-1]) return c.ys[n-1];
  var i=0; while(i<n-2 && x>xs[i+1]) i++;
  var h=c.h[i], t=(x-xs[i])/h, t2=t*t, t3=t2*t;
  return (2*t3-3*t2+1)*c.ys[i] + (t3-2*t2+t)*h*c.m[i] + (-2*t3+3*t2)*c.ys[i+1] + (t3-t2)*h*c.m[i+1];
}
var ry=ROWS.map(function(r){return r[0];});
var nl=LV.length, colc=[];
for(var k=0;k<nl;k++){ colc.push(pchipCoef(ry, ROWS.map(function(r){return r[1][k];}))); }
function col(g){ if(g<0)g=0; if(g>1)g=1; var n=cm.length;
  for(var i=0;i<n-1;i++){ if(g<=cm[i+1][0]){ var t=(g-cm[i][0])/(cm[i+1][0]-cm[i][0]); var a=cm[i][1],b=cm[i+1][1];
    return [a[0]+(b[0]-a[0])*t, a[1]+(b[1]-a[1])*t, a[2]+(b[2]-a[2])*t]; } }
  return cm[n-1][1]; }
var c=document.getElementById('hm'); var W=c.width,H=c.height; var ctx=c.getContext('2d');
var im=ctx.createImageData(W,H); var d=im.data;
for(var py=0;py<H;py++){ var y=PT+py+0.5;
  var xsr=[]; for(var k=0;k<nl;k++){ var v=pchipEval(colc[k], y); if(k>0 && v<=xsr[k-1]+0.5) v=xsr[k-1]+0.5; xsr.push(v); }
  var rc=pchipCoef(xsr, LV);
  for(var px=0;px<W;px++){ var x=PL+px+0.5;
    var g=pchipEval(rc, x);
    var cc=col(g); var k4=(py*W+px)*4; d[k4]=cc[0]; d[k4+1]=cc[1]; d[k4+2]=cc[2]; d[k4+3]=255; } }
ctx.putImageData(im,0,0);
})();
</script>

<svg width="879" height="795" viewBox="0 0 879 795">
<defs><linearGradient id="cb" x1="0" x2="1" y1="0" y2="0">
<stop offset="0.000" stop-color="rgb(253,251,216)"/>
<stop offset="0.029" stop-color="rgb(243,237,202)"/>
<stop offset="0.109" stop-color="rgb(245,219,168)"/>
<stop offset="0.232" stop-color="rgb(245,197,133)"/>
<stop offset="0.348" stop-color="rgb(248,174,88)"/>
<stop offset="0.446" stop-color="rgb(249,162,68)"/>
<stop offset="0.518" stop-color="rgb(248,154,56)"/>
<stop offset="0.609" stop-color="rgb(250,144,32)"/>
<stop offset="0.688" stop-color="rgb(255,128,0)"/>
<stop offset="0.754" stop-color="rgb(255,96,0)"/>
<stop offset="0.826" stop-color="rgb(255,56,0)"/>
<stop offset="0.899" stop-color="rgb(255,26,0)"/>
<stop offset="0.942" stop-color="rgb(255,5,0)"/>
<stop offset="0.971" stop-color="rgb(245,0,0)"/>
<stop offset="1.000" stop-color="rgb(221,0,0)"/>
</linearGradient></defs>
<rect x="432" y="32.3" width="276" height="28.6" rx="1.5" fill="url(#cb)" stroke="#383838" stroke-width="2.3"/>
<line x1="500.4" y1="61" x2="500.4" y2="74" stroke="#333" stroke-width="2"/>
<line x1="586.1" y1="61" x2="586.1" y2="74" stroke="#333" stroke-width="2"/>
<line x1="672.2" y1="61" x2="672.2" y2="74" stroke="#333" stroke-width="2"/>
<text x="447.5" y="25" font-size="27.2" fill="#111" class="k">Growth Rate (nm hr<tspan font-size="16.5" dy="-10.5">-1</tspan><tspan dy="10.5">)</tspan></text>
<text x="469.9" y="99" font-size="24" fill="#111" class="k">5×10<tspan font-size="16.5" dy="-10">0</tspan></text>
<text x="555.6" y="99" font-size="24" fill="#111" class="k">5×10<tspan font-size="16.5" dy="-10">1</tspan></text>
<text x="641.7" y="99" font-size="24" fill="#111" class="k">5×10<tspan font-size="16.5" dy="-10">2</tspan></text>
<g fill="#a4a4a4" font-weight="bold" font-size="30.8">
<text x="169" y="129" font-size="30.4">α insensitive</text>
<text x="614" y="129" font-size="30.6">α sensitive</text>
<text x="152.3" y="787">Higher [HNO<tspan font-size="20.5" dy="6.5">3</tspan><tspan dy="-6.5">]</tspan><tspan font-weight="normal" stroke="#a4a4a4" stroke-width="0.9" dx="1">×</tspan><tspan dx="1">[NH</tspan><tspan font-size="20.5" dy="6.5">3</tspan><tspan dy="-6.5">] and Lower Temperature</tspan></text>
<text transform="translate(24,729.5) rotate(-90)">More Particulate Organics and Lower RH</text>
<text transform="translate(872,329) rotate(-90)" font-size="30.4">S sensitive</text>
<text transform="translate(872,675.5) rotate(-90)" font-size="30.4">S insensitive</text>
</g>
<g stroke="#9d9d9d" stroke-width="4" fill="none">
<line x1="195" y1="146.8" x2="748" y2="146.8"/>
<line x1="51" y1="187" x2="51" y2="650"/>
<line x1="815.3" y1="188" x2="815.3" y2="650"/>
<line x1="190" y1="749.8" x2="757" y2="749.8"/>
</g>
<g fill="#9d9d9d">
<path d="M181.5,146.8 L204.4,134.6 L196.8,146.8 L204.4,159 Z"/>
<path d="M760,146.8 L737,135 L744.6,146.8 L737,158.6 Z"/>
<path d="M51,663 L39,639.5 L51,647 L63,639.5 Z"/>
<path d="M815.3,175 L803.5,198 L815.3,190.4 L827,198 Z"/>
<path d="M815.3,663 L803.5,640 L815.3,647.6 L827,640 Z"/>
<path d="M769,749.8 L747,739 L755.5,749.8 L747,760.6 Z"/>
</g>
<g fill="none" stroke="#2c2c2c" stroke-width="2.6" stroke-linejoin="round">
<polyline points="214.6,180.0 223.4,244.2 225.2,320.0 227.7,375.0 230.5,420.0 233.5,452.0 237.6,480.0 240.3,489.0 258.7,546.8 287.8,583.0 307.0,597.8 364.5,649.2 378.0,662.0 393.8,669.0"/>
<polyline points="303.9,180.0 303.9,242.1 322.2,303.3 356.2,366.9 379.9,396.5 442.0,424.6 471.6,442.4 567.6,484.0 589.9,490.6 654.0,517.3 731.9,546.5 785.0,570.3"/>
<polyline points="373.3,180.0 376.7,244.4 381.3,250.0 471.1,272.8 513.2,303.3 560.6,321.7 652.8,370.9 785.0,417.0"/>
</g>
<path d="M325.0,183.2H344.0M361.2,183.2H380.2M397.4,183.2H416.4M433.6,183.2H452.6M469.8,183.2H488.8M506.0,183.2H525.0M542.2,183.2H561.2M578.4,183.2H597.4M614.6,183.2H633.6M650.8,183.2H669.8M677.4,192.5V211.5M677.4,228.7V247.7M677.4,264.9V283.9M677.4,301.1V303.0M659.3,303.0H678.3M623.1,303.0H642.1M586.9,303.0H605.9M550.7,303.0H569.7M514.5,303.0H533.5M478.3,303.0H497.3M442.1,303.0H461.1M405.9,303.0H424.9M369.7,303.0H388.7M333.5,303.0H352.5M326.4,290.1V304.5M326.4,254.0V272.5M326.4,217.9V236.4M326.4,182.0V200.3" stroke="#000" stroke-width="3.6" fill="none"/>
<path d="M220.0,486.9H238.6M256.2,486.9H274.8M292.3,486.9H310.9M328.5,486.9H347.1M364.7,486.9H383.3M400.9,486.9H419.5M437.0,486.9H455.6M473.2,486.9H491.8M509.4,486.9H528.0M545.5,486.9H564.1M581.7,486.9H600.3M617.9,486.9H636.5M654.0,486.9H672.6M690.2,486.9H708.8M726.4,486.9H745.0M762.5,486.9H775.2M775.2,486.9V493M775.2,510.7V529.2M775.2,546.9V565.4M775.2,583.0V601.5M775.2,619.2V637.7M755.2,654.0H773.8M719.0,654.0H737.6M682.9,654.0H701.5M646.7,654.0H665.3M610.5,654.0H629.1M574.4,654.0H593.0M538.2,654.0H556.8M502.0,654.0H520.6M465.8,654.0H484.4M429.7,654.0H448.3M393.5,654.0H412.1M357.3,654.0H375.9M321.2,654.0H339.8M285.0,654.0H303.6M248.8,654.0H267.4M220.1,654.0H231.3M220.1,486.9V504.1M220.1,523.1V540.3M220.1,559.3V576.5M220.1,595.5V612.7M220.1,631.7V648.9" stroke="#4466f2" stroke-width="3.2" fill="none"/>
<text x="463" y="212.8" font-size="26.8" fill="#111" class="k">CLOUD chamber</text>
<text x="530" y="639.8" font-size="26.8" fill="#2f52f4" stroke="#2f52f4" stroke-width="0.4">Urban Environment</text>
<text transform="translate(294.5,566) rotate(45.5)" font-size="26.5" fill="#111" class="k">1 nm hr<tspan font-size="17" dy="-8" dx="4">-1</tspan></text>
<text transform="translate(613.5,389.5) rotate(19)" font-size="26.8" fill="#111" class="k">100 nm hr<tspan font-size="17" dy="-10" dx="4">-1</tspan></text>
<text transform="translate(614,539.5) rotate(20.2)" font-size="26.3" fill="#111" class="k">10 nm hr<tspan font-size="17" dy="-9" dx="4">-1</tspan></text>
<g stroke="#000" stroke-width="2.6" fill="none">
<rect x="183.0" y="180.5" width="602.3" height="488.5"/>
<path d="M168.6,180.5H183.0M175.8,265.8H183.0M175.8,244.3H183.0M175.8,229.1H183.0M175.8,217.3H183.0M175.8,207.6H183.0M175.8,199.4H183.0M175.8,192.3H183.0M175.8,186.1H183.0M168.6,302.6H183.0M175.8,387.9H183.0M175.8,366.4H183.0M175.8,351.2H183.0M175.8,339.4H183.0M175.8,329.7H183.0M175.8,321.5H183.0M175.8,314.4H183.0M175.8,308.2H183.0M168.6,424.7H183.0M175.8,510.0H183.0M175.8,488.5H183.0M175.8,473.3H183.0M175.8,461.5H183.0M175.8,451.8H183.0M175.8,443.6H183.0M175.8,436.5H183.0M175.8,430.3H183.0M168.6,546.8H183.0M175.8,632.1H183.0M175.8,610.6H183.0M175.8,595.4H183.0M175.8,583.6H183.0M175.8,573.9H183.0M175.8,565.7H183.0M175.8,558.6H183.0M175.8,552.4H183.0M168.6,668.9H183.0M183.0,669V681.8M222.4,669V675.5M245.5,669V675.5M261.8,669V675.5M274.5,669V675.5M284.9,669V675.5M293.6,669V675.5M301.2,669V675.5M307.9,669V675.5M313.9,669V681.8M353.3,669V675.5M376.4,669V675.5M392.7,669V675.5M405.4,669V675.5M415.8,669V675.5M424.5,669V675.5M432.1,669V675.5M438.8,669V675.5M444.8,669V681.8M484.2,669V675.5M507.3,669V675.5M523.6,669V675.5M536.3,669V675.5M546.7,669V675.5M555.4,669V675.5M563.0,669V675.5M569.7,669V675.5M575.7,669V681.8M615.1,669V675.5M638.2,669V675.5M654.5,669V675.5M667.2,669V675.5M677.6,669V675.5M686.3,669V675.5M693.9,669V675.5M700.6,669V675.5M706.6,669V681.8M746.0,669V675.5M769.1,669V675.5M785.4,669V675.5" stroke-width="2.6"/>
</g>
<text x="165.6" y="191.0" font-size="27" text-anchor="end" fill="#111" class="k">10<tspan font-size="17.5" dy="-11">0</tspan></text>
<text x="165.6" y="313.1" font-size="27" text-anchor="end" fill="#111" class="k">10<tspan font-size="17.5" dy="-11">-1</tspan></text>
<text x="165.6" y="435.2" font-size="27" text-anchor="end" fill="#111" class="k">10<tspan font-size="17.5" dy="-11">-2</tspan></text>
<text x="165.6" y="557.3" font-size="27" text-anchor="end" fill="#111" class="k">10<tspan font-size="17.5" dy="-11">-3</tspan></text>
<text x="165.6" y="679.4" font-size="27" text-anchor="end" fill="#111" class="k">10<tspan font-size="17.5" dy="-11">-4</tspan></text>
<text x="163.5" y="707.2" font-size="27" fill="#111" class="k">10<tspan font-size="17.5" dy="-11">0</tspan></text>
<text x="294.4" y="707.2" font-size="27" fill="#111" class="k">10<tspan font-size="17.5" dy="-11">1</tspan></text>
<text x="425.3" y="707.2" font-size="27" fill="#111" class="k">10<tspan font-size="17.5" dy="-11">2</tspan></text>
<text x="556.2" y="707.2" font-size="27" fill="#111" class="k">10<tspan font-size="17.5" dy="-11">3</tspan></text>
<text x="687.1" y="707.2" font-size="27" fill="#111" class="k">10<tspan font-size="17.5" dy="-11">4</tspan></text>
<text x="331" y="735.3" font-size="26.8" fill="#111" class="k">Saturation ratio, S<tspan font-size="18.6" dy="8">HNO</tspan><tspan font-size="13" dy="4.5">3</tspan><tspan font-size="18.6" dy="-4.5">×NH</tspan><tspan font-size="13" dy="4.5">3</tspan></text>
<text transform="translate(103.3,626.5) rotate(-90)" font-size="27.1" fill="#111" class="k">Accommodation coefficient, α<tspan font-size="18.7" dy="7.5">HNO3</tspan></text>
</svg></body></html>
